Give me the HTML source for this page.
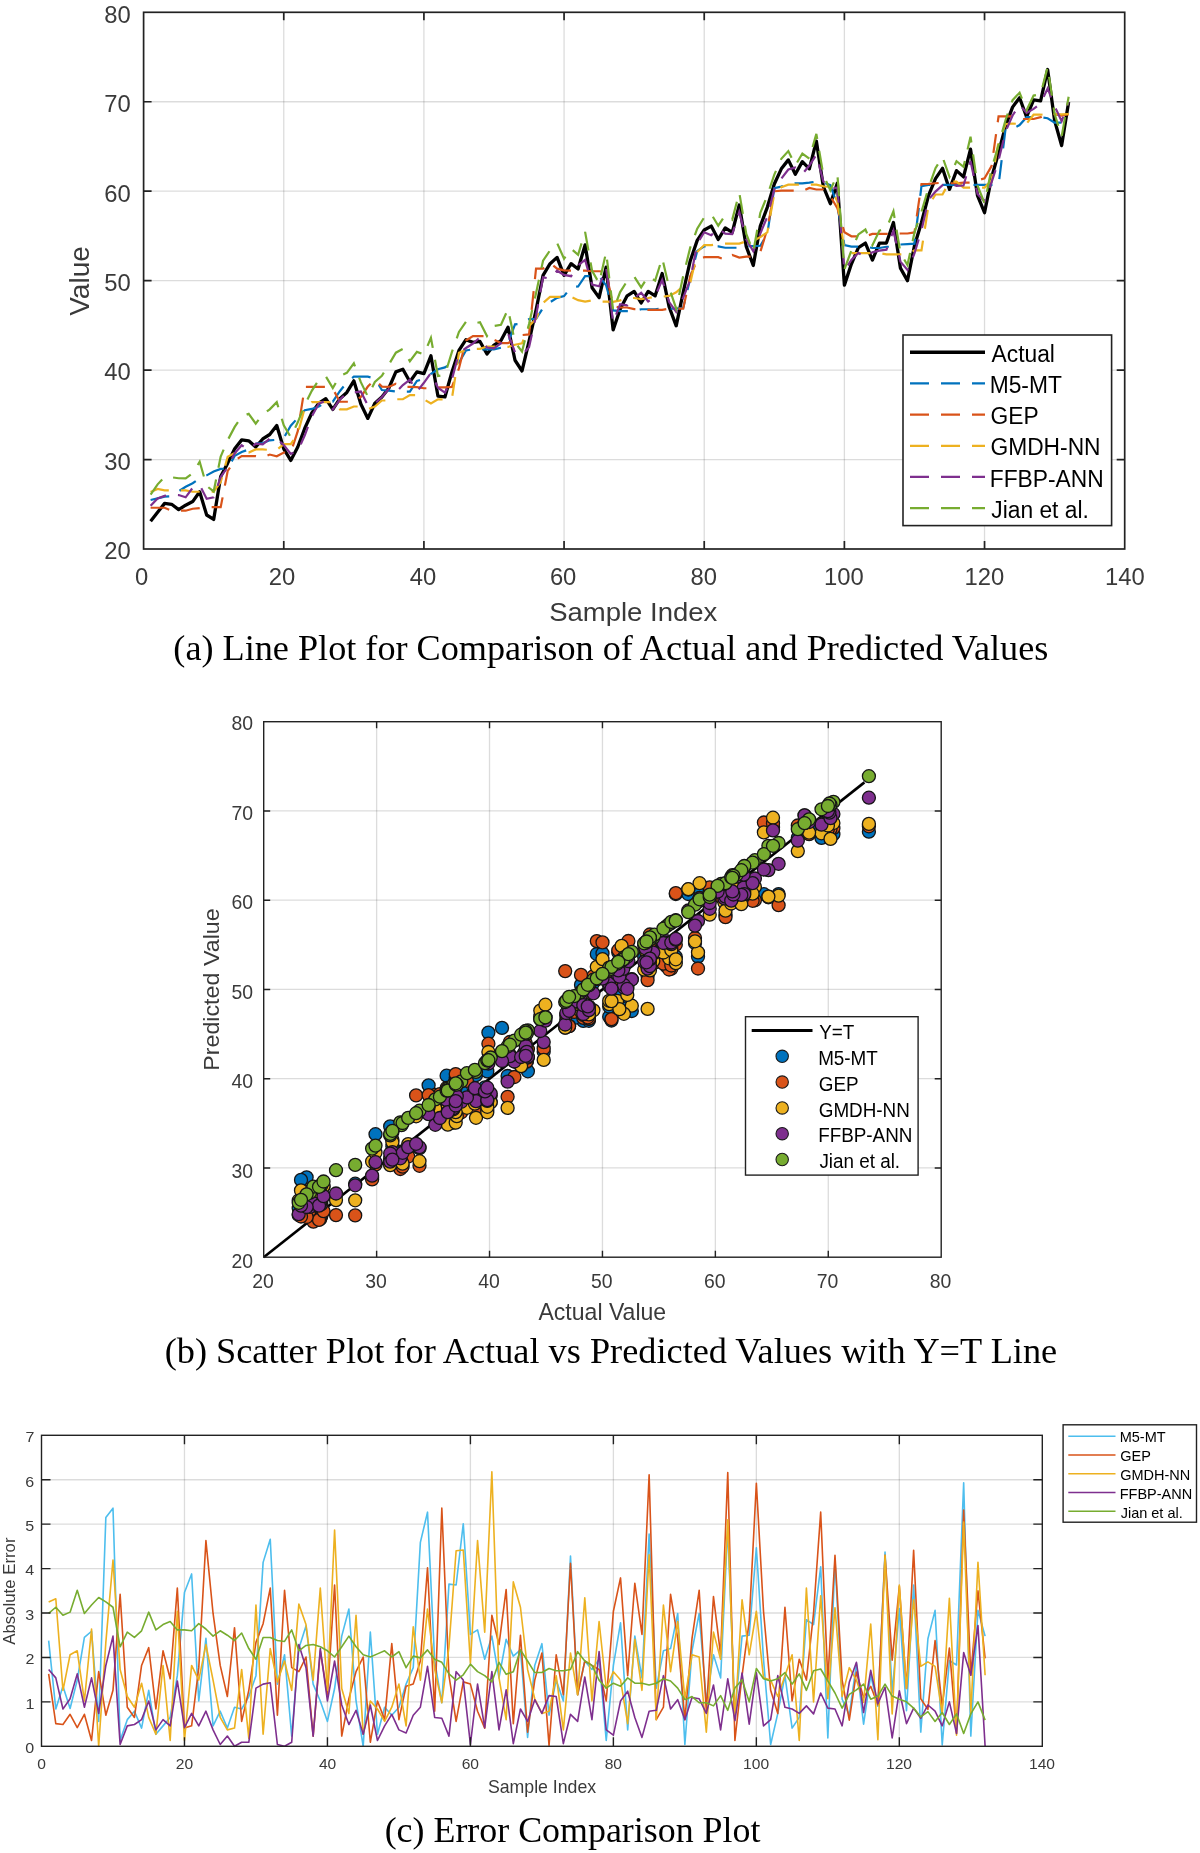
<!DOCTYPE html><html><head><meta charset="utf-8"><style>html,body{margin:0;padding:0;background:#fff;overflow:hidden}svg{display:block;will-change:transform}text{font-family:"Liberation Sans",sans-serif}text.cap{font-family:"Liberation Serif",serif}</style></head><body>
<svg width="1200" height="1853" viewBox="0 0 1200 1853">
<rect width="1200" height="1853" fill="#fff"/>
<line x1="283.76" y1="12.3" x2="283.76" y2="549.0" stroke="#262626" stroke-opacity="0.16" stroke-width="1.3"/><line x1="423.91" y1="12.3" x2="423.91" y2="549.0" stroke="#262626" stroke-opacity="0.16" stroke-width="1.3"/><line x1="564.07" y1="12.3" x2="564.07" y2="549.0" stroke="#262626" stroke-opacity="0.16" stroke-width="1.3"/><line x1="704.23" y1="12.3" x2="704.23" y2="549.0" stroke="#262626" stroke-opacity="0.16" stroke-width="1.3"/><line x1="844.39" y1="12.3" x2="844.39" y2="549.0" stroke="#262626" stroke-opacity="0.16" stroke-width="1.3"/><line x1="984.54" y1="12.3" x2="984.54" y2="549.0" stroke="#262626" stroke-opacity="0.16" stroke-width="1.3"/><line x1="143.6" y1="459.55" x2="1124.7" y2="459.55" stroke="#262626" stroke-opacity="0.16" stroke-width="1.3"/><line x1="143.6" y1="370.10" x2="1124.7" y2="370.10" stroke="#262626" stroke-opacity="0.16" stroke-width="1.3"/><line x1="143.6" y1="280.65" x2="1124.7" y2="280.65" stroke="#262626" stroke-opacity="0.16" stroke-width="1.3"/><line x1="143.6" y1="191.20" x2="1124.7" y2="191.20" stroke="#262626" stroke-opacity="0.16" stroke-width="1.3"/><line x1="143.6" y1="101.75" x2="1124.7" y2="101.75" stroke="#262626" stroke-opacity="0.16" stroke-width="1.3"/>
<polyline points="150.61,521.27 157.62,512.33 164.62,503.38 171.63,504.27 178.64,509.64 185.65,505.17 192.66,501.59 199.66,491.75 206.67,515.01 213.68,519.48 220.69,476.55 227.69,463.13 234.70,448.82 241.71,439.87 248.72,440.77 255.73,447.03 262.73,438.98 269.74,434.50 276.75,425.56 283.76,448.82 290.76,460.44 297.77,447.03 304.78,428.24 311.79,413.04 318.80,403.20 325.80,398.72 332.81,409.46 339.82,398.72 346.83,392.46 353.84,380.83 360.84,404.09 367.85,418.40 374.86,403.20 381.87,396.94 388.88,387.99 395.88,371.89 402.89,369.21 409.90,381.73 416.91,371.89 423.91,373.68 430.92,355.79 437.93,396.04 444.94,396.94 451.95,371.89 458.95,350.42 465.96,339.69 472.97,342.37 479.98,341.48 486.99,354.00 493.99,345.05 501.00,340.58 508.01,327.16 515.02,360.26 522.02,370.99 529.03,341.48 536.04,310.17 543.05,275.28 550.06,263.65 557.06,257.39 564.07,275.28 571.08,263.65 578.09,269.02 585.10,244.87 592.10,287.81 599.11,297.65 606.12,267.23 613.13,329.85 620.13,309.27 627.14,295.86 634.15,291.38 641.16,303.01 648.17,291.38 655.17,295.86 662.18,273.49 669.19,307.04 676.20,325.82 683.21,292.28 690.21,260.97 697.22,240.40 704.23,230.02 711.24,226.09 718.24,239.50 725.25,227.87 732.26,232.35 739.27,204.98 746.28,246.66 753.28,265.44 760.29,226.09 767.30,207.30 774.31,184.04 781.32,168.84 788.32,159.89 795.33,174.20 802.34,161.68 809.35,168.84 816.35,141.11 823.36,186.73 830.37,203.72 837.38,183.15 844.39,285.12 851.39,264.10 858.40,247.55 865.41,243.08 872.42,260.08 879.43,243.08 886.43,243.08 893.44,222.51 900.45,268.13 907.46,280.65 914.46,245.76 921.47,222.51 928.48,195.67 935.49,178.68 942.50,168.30 949.50,189.41 956.51,170.63 963.52,176.89 970.53,149.16 977.53,195.67 984.54,212.67 991.55,177.78 998.56,152.74 1005.57,125.90 1012.57,107.12 1019.58,97.72 1026.59,116.96 1033.60,99.96 1040.61,100.86 1047.61,69.55 1054.62,120.53 1061.63,145.58 1068.64,102.02" fill="none" stroke="#000" stroke-width="3.3" stroke-linejoin="round"/>
<polyline points="150.61,499.98 157.62,498.33 164.62,496.67 171.63,496.31 178.64,491.30 185.65,486.74 192.66,483.25 199.66,478.42 206.67,475.38 213.68,471.54 220.69,468.94 227.69,468.50 234.70,455.88 241.71,452.04 248.72,449.44 255.73,443.54 262.73,443.09 269.74,440.32 276.75,439.78 283.76,437.90 290.76,425.74 297.77,417.87 304.78,410.26 311.79,408.92 318.80,406.51 325.80,402.39 332.81,401.59 339.82,391.21 346.83,382.44 353.84,376.72 360.84,376.72 367.85,376.72 374.86,378.51 381.87,390.05 388.88,390.67 395.88,391.57 402.89,391.57 409.90,391.57 416.91,381.01 423.91,378.69 430.92,373.86 437.93,369.29 444.94,367.42 451.95,362.77 458.95,362.68 465.96,350.42 472.97,349.35 479.98,349.35 486.99,349.35 493.99,349.35 501.00,347.74 508.01,343.00 515.02,324.30 522.02,323.85 529.03,319.20 536.04,318.93 543.05,307.93 550.06,302.21 557.06,297.82 564.07,296.12 571.08,287.09 578.09,286.55 585.10,276.09 592.10,276.09 599.11,276.09 606.12,285.39 613.13,310.44 620.13,311.06 627.14,311.06 634.15,311.06 641.16,309.27 648.17,309.27 655.17,309.27 662.18,308.65 669.19,308.65 676.20,308.65 683.21,307.75 690.21,278.50 697.22,250.95 704.23,246.30 711.24,246.30 718.24,246.30 725.25,247.73 732.26,247.73 739.27,247.73 746.28,246.21 753.28,246.21 760.29,245.76 767.30,234.05 774.31,188.07 781.32,186.64 788.32,184.40 795.33,183.33 802.34,183.33 809.35,182.61 816.35,181.54 823.36,182.61 830.37,185.12 837.38,205.51 844.39,245.14 851.39,246.57 858.40,246.57 865.41,246.75 872.42,247.91 879.43,248.00 886.43,246.75 893.44,246.75 900.45,244.51 907.46,244.06 914.46,243.62 921.47,186.19 928.48,184.94 935.49,184.94 942.50,184.94 949.50,184.94 956.51,184.94 963.52,184.94 970.53,184.94 977.53,184.94 984.54,184.94 991.55,184.94 998.56,184.94 1005.57,128.76 1012.57,128.76 1019.58,125.10 1026.59,117.22 1033.60,117.22 1040.61,117.22 1047.61,118.21 1054.62,122.59 1061.63,122.59 1068.64,122.59" fill="none" stroke="#0072BD" stroke-width="2.2" stroke-dasharray="19 12"/>
<polyline points="150.61,507.76 157.62,507.76 164.62,507.76 171.63,510.72 178.64,510.72 185.65,510.72 192.66,508.75 199.66,508.21 206.67,507.14 213.68,507.14 220.69,507.14 227.69,471.00 234.70,460.62 241.71,456.15 248.72,456.15 255.73,456.15 262.73,457.40 269.74,454.54 276.75,456.33 283.76,452.48 290.76,452.48 297.77,431.19 304.78,386.92 311.79,386.92 318.80,386.83 325.80,386.92 332.81,388.71 339.82,401.77 346.83,401.77 353.84,401.77 360.84,396.94 367.85,386.56 374.86,379.40 381.87,386.56 388.88,386.92 395.88,383.79 402.89,386.92 409.90,386.92 416.91,387.18 423.91,388.26 430.92,388.26 437.93,387.36 444.94,387.36 451.95,386.92 458.95,368.40 465.96,340.49 472.97,336.11 479.98,336.11 486.99,336.11 493.99,339.69 501.00,343.09 508.01,343.09 515.02,339.69 522.02,335.04 529.03,334.41 536.04,268.66 543.05,268.66 550.06,262.76 557.06,268.66 564.07,270.36 571.08,270.72 578.09,270.72 585.10,270.72 592.10,271.26 599.11,271.26 606.12,271.79 613.13,306.41 620.13,307.49 627.14,307.49 634.15,309.18 641.16,309.18 648.17,309.81 655.17,309.81 662.18,309.81 669.19,308.65 676.20,308.65 683.21,308.56 690.21,276.45 697.22,259.99 704.23,257.21 711.24,257.21 718.24,257.21 725.25,259.63 732.26,254.89 739.27,257.57 746.28,256.68 753.28,256.68 760.29,252.03 767.30,229.04 774.31,191.29 781.32,190.57 788.32,190.57 795.33,190.57 802.34,191.29 809.35,187.89 816.35,189.50 823.36,189.50 830.37,196.21 837.38,208.28 844.39,232.17 851.39,236.28 858.40,236.28 865.41,236.28 872.42,233.96 879.43,233.96 886.43,233.96 893.44,233.96 900.45,233.51 907.46,233.51 914.46,232.44 921.47,184.04 928.48,183.95 935.49,183.24 942.50,182.70 949.50,183.24 956.51,183.24 963.52,182.70 970.53,182.70 977.53,180.47 984.54,178.32 991.55,166.15 998.56,116.33 1005.57,116.33 1012.57,116.33 1019.58,119.01 1026.59,119.01 1033.60,119.01 1040.61,117.14 1047.61,114.27 1054.62,114.27 1061.63,115.70 1068.64,114.27" fill="none" stroke="#D95319" stroke-width="2.2" stroke-dasharray="19 12"/>
<polyline points="150.61,492.11 157.62,488.98 164.62,490.41 171.63,490.41 178.64,490.41 185.65,490.41 192.66,491.75 199.66,491.75 206.67,491.75 213.68,491.75 220.69,482.00 227.69,456.69 234.70,453.11 241.71,452.57 248.72,452.57 255.73,449.44 262.73,449.44 269.74,449.98 276.75,449.98 283.76,444.16 290.76,444.16 297.77,433.70 304.78,407.76 311.79,402.03 318.80,402.03 325.80,402.03 332.81,402.03 339.82,409.28 346.83,409.28 353.84,406.51 360.84,406.51 367.85,409.28 374.86,406.51 381.87,400.51 388.88,400.51 395.88,399.26 402.89,399.26 409.90,395.06 416.91,395.06 423.91,399.35 430.92,403.55 437.93,399.35 444.94,399.35 451.95,398.28 458.95,352.84 465.96,349.88 472.97,348.81 479.98,348.81 486.99,346.49 493.99,346.49 501.00,346.93 508.01,346.93 515.02,344.70 522.02,343.35 529.03,326.00 536.04,318.93 543.05,303.01 550.06,296.93 557.06,296.93 564.07,296.93 571.08,296.93 578.09,300.15 585.10,301.58 592.10,300.33 599.11,301.58 606.12,301.58 613.13,301.85 620.13,300.33 627.14,298.00 634.15,298.00 641.16,299.17 648.17,298.00 655.17,296.66 662.18,296.66 669.19,295.95 676.20,292.28 683.21,286.11 690.21,283.15 697.22,252.03 704.23,245.05 711.24,245.05 718.24,244.06 725.25,243.62 732.26,243.62 739.27,243.53 746.28,241.29 753.28,241.11 760.29,237.00 767.30,232.44 774.31,193.62 781.32,187.26 788.32,184.67 795.33,184.67 802.34,184.67 809.35,184.67 816.35,184.67 823.36,186.37 830.37,186.73 837.38,201.58 844.39,250.33 851.39,253.10 858.40,253.10 865.41,253.10 872.42,253.10 879.43,253.10 886.43,254.35 893.44,254.35 900.45,254.35 907.46,254.35 914.46,250.42 921.47,250.33 928.48,205.69 935.49,194.51 942.50,194.51 949.50,181.63 956.51,181.63 963.52,187.62 970.53,187.62 977.53,187.62 984.54,187.62 991.55,180.20 998.56,142.00 1005.57,124.11 1012.57,123.49 1019.58,124.11 1026.59,123.49 1033.60,114.72 1040.61,114.72 1047.61,114.00 1054.62,114.00 1061.63,114.36 1068.64,114.00" fill="none" stroke="#EDB120" stroke-width="2.2" stroke-dasharray="19 12"/>
<polyline points="150.61,505.80 157.62,498.55 164.62,495.87 171.63,494.70 178.64,495.06 185.65,497.30 192.66,487.82 199.66,485.13 206.67,498.73 213.68,497.30 220.69,476.90 227.69,467.24 234.70,453.20 241.71,445.24 248.72,449.89 255.73,443.72 262.73,444.34 269.74,438.62 276.75,438.71 283.76,445.06 290.76,453.83 297.77,451.14 304.78,435.31 311.79,416.35 318.80,403.55 325.80,400.78 332.81,409.46 339.82,399.53 346.83,393.27 353.84,392.55 360.84,391.57 367.85,405.61 374.86,403.55 381.87,396.94 388.88,388.80 395.88,392.37 402.89,385.04 409.90,379.67 416.91,391.57 423.91,382.80 430.92,372.96 437.93,387.72 444.94,392.55 451.95,379.13 458.95,352.84 465.96,348.01 472.97,343.53 479.98,337.36 486.99,347.56 493.99,348.36 501.00,343.26 508.01,333.43 515.02,352.39 522.02,354.89 529.03,347.29 536.04,315.80 543.05,277.34 550.06,278.68 557.06,270.72 564.07,274.93 571.08,276.18 578.09,265.26 585.10,259.90 592.10,284.50 599.11,286.29 606.12,267.77 613.13,322.33 620.13,304.26 627.14,305.25 634.15,298.00 641.16,292.82 648.17,301.40 655.17,296.39 662.18,279.93 669.19,302.03 676.20,311.87 683.21,297.65 690.21,280.02 697.22,243.71 704.23,232.26 711.24,235.21 718.24,228.41 725.25,233.69 732.26,234.14 739.27,212.04 746.28,239.41 753.28,251.22 760.29,233.60 767.30,216.69 774.31,189.41 781.32,178.68 788.32,169.46 795.33,167.59 802.34,174.03 809.35,165.53 816.35,154.70 823.36,181.54 830.37,188.96 837.38,187.62 844.39,270.27 851.39,259.99 858.40,252.92 865.41,257.30 872.42,252.20 879.43,250.59 886.43,249.70 893.44,230.65 900.45,261.60 907.46,269.92 914.46,253.46 921.47,230.02 928.48,199.79 935.49,191.56 942.50,185.21 949.50,182.61 956.51,185.92 963.52,185.48 970.53,161.06 977.53,193.97 984.54,201.49 991.55,182.34 998.56,160.43 1005.57,131.54 1012.57,115.44 1019.58,104.79 1026.59,112.84 1033.60,108.91 1040.61,103.45 1047.61,88.42 1054.62,106.22 1061.63,121.25 1068.64,102.02" fill="none" stroke="#7E2F8E" stroke-width="2.2" stroke-dasharray="19 12"/>
<polyline points="150.61,494.52 157.62,484.33 164.62,476.99 171.63,477.26 178.64,478.25 185.65,478.42 192.66,473.15 199.66,461.79 206.67,485.94 213.68,491.48 220.69,456.51 227.69,440.14 234.70,426.90 241.71,416.61 248.72,413.75 255.73,423.59 262.73,414.47 269.74,409.37 276.75,402.12 283.76,425.38 290.76,437.19 297.77,422.34 304.78,404.63 311.79,390.85 318.80,379.94 325.80,376.36 332.81,388.17 339.82,375.91 346.83,372.78 353.84,363.30 360.84,382.18 367.85,396.49 374.86,381.91 381.87,375.82 388.88,364.55 395.88,352.66 402.89,348.90 409.90,361.24 416.91,351.85 423.91,354.45 430.92,337.81 437.93,376.00 444.94,374.75 451.95,351.85 458.95,331.99 465.96,321.71 472.97,323.76 479.98,322.24 486.99,336.02 493.99,326.00 501.00,324.75 508.01,309.01 515.02,342.46 522.02,351.58 529.03,323.94 536.04,293.26 543.05,260.70 550.06,250.33 557.06,242.99 564.07,258.73 571.08,248.63 578.09,254.80 585.10,231.90 592.10,270.90 599.11,283.15 606.12,252.20 613.13,310.44 620.13,292.10 627.14,281.01 634.15,276.54 641.16,287.36 648.17,276.18 655.17,280.65 662.18,258.02 669.19,287.98 676.20,308.65 683.21,276.00 690.21,247.64 697.22,228.68 704.23,217.32 711.24,214.01 718.24,225.73 725.25,215.17 732.26,219.65 739.27,192.63 746.28,233.96 753.28,251.85 760.29,212.94 767.30,195.58 774.31,174.65 781.32,158.82 788.32,151.13 795.33,165.44 802.34,153.54 809.35,158.64 816.35,133.86 823.36,175.01 830.37,190.31 837.38,174.20 844.39,269.47 851.39,250.51 858.40,234.40 865.41,229.48 872.42,245.23 879.43,230.56 886.43,228.50 893.44,211.24 900.45,252.92 907.46,265.09 914.46,232.62 921.47,211.77 928.48,187.98 935.49,168.21 942.50,156.94 949.50,176.89 956.51,161.14 963.52,166.78 970.53,136.64 977.53,185.56 984.54,203.19 991.55,168.84 998.56,145.04 1005.57,120.00 1012.57,100.14 1019.58,92.72 1026.59,110.16 1033.60,95.58 1040.61,94.33 1047.61,66.95 1054.62,114.00 1061.63,136.64 1068.64,96.74" fill="none" stroke="#77AC30" stroke-width="2.2" stroke-dasharray="19 12"/>
<rect x="143.6" y="12.3" width="981.10" height="536.70" fill="none" stroke="#222" stroke-width="1.7"/><path d="M283.76,549.0v-8M283.76,12.3v8M423.91,549.0v-8M423.91,12.3v8M564.07,549.0v-8M564.07,12.3v8M704.23,549.0v-8M704.23,12.3v8M844.39,549.0v-8M844.39,12.3v8M984.54,549.0v-8M984.54,12.3v8M143.6,459.55h8M1124.7,459.55h-8M143.6,370.10h8M1124.7,370.10h-8M143.6,280.65h8M1124.7,280.65h-8M143.6,191.20h8M1124.7,191.20h-8M143.6,101.75h8M1124.7,101.75h-8" stroke="#222" stroke-width="1.7" fill="none"/>
<text transform="translate(104.27,559.30) scale(1.0000,1.0000)" font-size="23.80" fill="#3a3a3a">20</text>
<text transform="translate(104.27,469.85) scale(1.0000,1.0000)" font-size="23.80" fill="#3a3a3a">30</text>
<text transform="translate(104.27,380.40) scale(1.0000,1.0000)" font-size="23.80" fill="#3a3a3a">40</text>
<text transform="translate(104.27,290.95) scale(1.0000,1.0000)" font-size="23.80" fill="#3a3a3a">50</text>
<text transform="translate(104.27,201.50) scale(1.0000,1.0000)" font-size="23.80" fill="#3a3a3a">60</text>
<text transform="translate(104.27,112.05) scale(1.0000,1.0000)" font-size="23.80" fill="#3a3a3a">70</text>
<text transform="translate(104.27,22.60) scale(1.0000,1.0000)" font-size="23.80" fill="#3a3a3a">80</text>
<text transform="translate(135.07,585.30) scale(1.0000,1.0000)" font-size="23.80" fill="#3a3a3a">0</text>
<text transform="translate(268.86,585.30) scale(1.0000,1.0000)" font-size="23.80" fill="#3a3a3a">20</text>
<text transform="translate(409.70,585.30) scale(1.0000,1.0000)" font-size="23.80" fill="#3a3a3a">40</text>
<text transform="translate(549.89,585.30) scale(1.0000,1.0000)" font-size="23.80" fill="#3a3a3a">60</text>
<text transform="translate(690.49,585.30) scale(1.0000,1.0000)" font-size="23.80" fill="#3a3a3a">80</text>
<text transform="translate(823.98,585.30) scale(1.0000,1.0000)" font-size="23.80" fill="#3a3a3a">100</text>
<text transform="translate(964.50,585.30) scale(1.0000,1.0000)" font-size="23.80" fill="#3a3a3a">120</text>
<text transform="translate(1105.01,585.30) scale(1.0000,1.0000)" font-size="23.80" fill="#3a3a3a">140</text>
<text transform="translate(549.16,620.80) scale(1.0903,1.0000)" font-size="25.24" fill="#3a3a3a">Sample Index</text>
<text transform="translate(88.53,315.74) rotate(-90) scale(1.4004,1.3673)" font-size="20.00" fill="#3a3a3a">Value</text>
<rect x="903" y="335" width="208.6" height="190.6" fill="#fff" stroke="#222" stroke-width="1.6"/>
<line x1="910" y1="352.30" x2="985" y2="352.30" stroke="#000" stroke-width="3.4"/>
<text transform="translate(991.54,362.00) scale(1.0000,1.0500)" font-size="22.80" fill="#000">Actual</text>
<line x1="910" y1="383.46" x2="985" y2="383.46" stroke="#0072BD" stroke-width="2.2" stroke-dasharray="19 12"/>
<text transform="translate(989.72,393.16) scale(1.0000,1.0500)" font-size="22.80" fill="#000">M5-MT</text>
<line x1="910" y1="414.62" x2="985" y2="414.62" stroke="#D95319" stroke-width="2.2" stroke-dasharray="19 12"/>
<text transform="translate(990.46,424.32) scale(1.0000,1.0500)" font-size="22.80" fill="#000">GEP</text>
<line x1="910" y1="445.78" x2="985" y2="445.78" stroke="#EDB120" stroke-width="2.2" stroke-dasharray="19 12"/>
<text transform="translate(990.46,455.48) scale(1.0000,1.0500)" font-size="22.80" fill="#000">GMDH-NN</text>
<line x1="910" y1="476.94" x2="985" y2="476.94" stroke="#7E2F8E" stroke-width="2.2" stroke-dasharray="19 12"/>
<text transform="translate(989.72,486.64) scale(1.0000,1.0500)" font-size="22.80" fill="#000">FFBP-ANN</text>
<line x1="910" y1="508.10" x2="985" y2="508.10" stroke="#77AC30" stroke-width="2.2" stroke-dasharray="19 12"/>
<text transform="translate(991.26,517.80) scale(1.0000,1.0500)" font-size="22.80" fill="#000">Jian et al.</text>
<text class="cap" transform="translate(173.36,659.70) scale(1.0032,1.0000)" font-size="36.10" fill="#000">(a) Line Plot for Comparison of Actual and Predicted Values</text>
<line x1="376.62" y1="721.7" x2="376.62" y2="1257.2" stroke="#262626" stroke-opacity="0.16" stroke-width="1.3"/><line x1="489.53" y1="721.7" x2="489.53" y2="1257.2" stroke="#262626" stroke-opacity="0.16" stroke-width="1.3"/><line x1="602.45" y1="721.7" x2="602.45" y2="1257.2" stroke="#262626" stroke-opacity="0.16" stroke-width="1.3"/><line x1="715.37" y1="721.7" x2="715.37" y2="1257.2" stroke="#262626" stroke-opacity="0.16" stroke-width="1.3"/><line x1="828.28" y1="721.7" x2="828.28" y2="1257.2" stroke="#262626" stroke-opacity="0.16" stroke-width="1.3"/><line x1="263.7" y1="1167.95" x2="941.2" y2="1167.95" stroke="#262626" stroke-opacity="0.16" stroke-width="1.3"/><line x1="263.7" y1="1078.70" x2="941.2" y2="1078.70" stroke="#262626" stroke-opacity="0.16" stroke-width="1.3"/><line x1="263.7" y1="989.45" x2="941.2" y2="989.45" stroke="#262626" stroke-opacity="0.16" stroke-width="1.3"/><line x1="263.7" y1="900.20" x2="941.2" y2="900.20" stroke="#262626" stroke-opacity="0.16" stroke-width="1.3"/><line x1="263.7" y1="810.95" x2="941.2" y2="810.95" stroke="#262626" stroke-opacity="0.16" stroke-width="1.3"/>
<line x1="263.70" y1="1257.20" x2="864.42" y2="782.39" stroke="#000" stroke-width="2.6"/>
<circle cx="298.7" cy="1208.3" r="6.5" fill="#0072BD" stroke="#151515" stroke-width="1.3"/>
<circle cx="310.0" cy="1213.1" r="6.5" fill="#0072BD" stroke="#151515" stroke-width="1.3"/>
<circle cx="321.3" cy="1199.6" r="6.5" fill="#0072BD" stroke="#151515" stroke-width="1.3"/>
<circle cx="320.2" cy="1205.0" r="6.5" fill="#0072BD" stroke="#151515" stroke-width="1.3"/>
<circle cx="313.4" cy="1204.6" r="6.5" fill="#0072BD" stroke="#151515" stroke-width="1.3"/>
<circle cx="319.0" cy="1191.6" r="6.5" fill="#0072BD" stroke="#151515" stroke-width="1.3"/>
<circle cx="323.5" cy="1186.8" r="6.5" fill="#0072BD" stroke="#151515" stroke-width="1.3"/>
<circle cx="336.0" cy="1195.1" r="6.5" fill="#0072BD" stroke="#151515" stroke-width="1.3"/>
<circle cx="306.6" cy="1177.3" r="6.5" fill="#0072BD" stroke="#151515" stroke-width="1.3"/>
<circle cx="301.0" cy="1179.9" r="6.5" fill="#0072BD" stroke="#151515" stroke-width="1.3"/>
<circle cx="355.2" cy="1183.7" r="6.5" fill="#0072BD" stroke="#151515" stroke-width="1.3"/>
<circle cx="372.1" cy="1176.9" r="6.5" fill="#0072BD" stroke="#151515" stroke-width="1.3"/>
<circle cx="390.2" cy="1164.3" r="6.5" fill="#0072BD" stroke="#151515" stroke-width="1.3"/>
<circle cx="401.5" cy="1152.0" r="6.5" fill="#0072BD" stroke="#151515" stroke-width="1.3"/>
<circle cx="400.3" cy="1160.5" r="6.5" fill="#0072BD" stroke="#151515" stroke-width="1.3"/>
<circle cx="392.4" cy="1157.9" r="6.5" fill="#0072BD" stroke="#151515" stroke-width="1.3"/>
<circle cx="402.6" cy="1151.5" r="6.5" fill="#0072BD" stroke="#151515" stroke-width="1.3"/>
<circle cx="408.2" cy="1148.8" r="6.5" fill="#0072BD" stroke="#151515" stroke-width="1.3"/>
<circle cx="419.5" cy="1148.2" r="6.5" fill="#0072BD" stroke="#151515" stroke-width="1.3"/>
<circle cx="390.2" cy="1126.4" r="6.5" fill="#0072BD" stroke="#151515" stroke-width="1.3"/>
<circle cx="375.5" cy="1134.2" r="6.5" fill="#0072BD" stroke="#151515" stroke-width="1.3"/>
<circle cx="392.4" cy="1146.4" r="6.5" fill="#0072BD" stroke="#151515" stroke-width="1.3"/>
<circle cx="416.1" cy="1115.0" r="6.5" fill="#0072BD" stroke="#151515" stroke-width="1.3"/>
<circle cx="435.3" cy="1117.4" r="6.5" fill="#0072BD" stroke="#151515" stroke-width="1.3"/>
<circle cx="447.8" cy="1118.8" r="6.5" fill="#0072BD" stroke="#151515" stroke-width="1.3"/>
<circle cx="453.4" cy="1110.9" r="6.5" fill="#0072BD" stroke="#151515" stroke-width="1.3"/>
<circle cx="439.9" cy="1110.1" r="6.5" fill="#0072BD" stroke="#151515" stroke-width="1.3"/>
<circle cx="453.4" cy="1099.8" r="6.5" fill="#0072BD" stroke="#151515" stroke-width="1.3"/>
<circle cx="461.3" cy="1091.0" r="6.5" fill="#0072BD" stroke="#151515" stroke-width="1.3"/>
<circle cx="476.0" cy="1075.2" r="6.5" fill="#0072BD" stroke="#151515" stroke-width="1.3"/>
<circle cx="446.6" cy="1075.7" r="6.5" fill="#0072BD" stroke="#151515" stroke-width="1.3"/>
<circle cx="428.6" cy="1085.3" r="6.5" fill="#0072BD" stroke="#151515" stroke-width="1.3"/>
<circle cx="447.8" cy="1099.2" r="6.5" fill="#0072BD" stroke="#151515" stroke-width="1.3"/>
<circle cx="455.7" cy="1087.1" r="6.5" fill="#0072BD" stroke="#151515" stroke-width="1.3"/>
<circle cx="466.9" cy="1098.6" r="6.5" fill="#0072BD" stroke="#151515" stroke-width="1.3"/>
<circle cx="487.3" cy="1100.1" r="6.5" fill="#0072BD" stroke="#151515" stroke-width="1.3"/>
<circle cx="490.7" cy="1102.0" r="6.5" fill="#0072BD" stroke="#151515" stroke-width="1.3"/>
<circle cx="474.9" cy="1102.8" r="6.5" fill="#0072BD" stroke="#151515" stroke-width="1.3"/>
<circle cx="487.3" cy="1089.6" r="6.5" fill="#0072BD" stroke="#151515" stroke-width="1.3"/>
<circle cx="485.0" cy="1087.3" r="6.5" fill="#0072BD" stroke="#151515" stroke-width="1.3"/>
<circle cx="507.6" cy="1076.0" r="6.5" fill="#0072BD" stroke="#151515" stroke-width="1.3"/>
<circle cx="456.8" cy="1082.4" r="6.5" fill="#0072BD" stroke="#151515" stroke-width="1.3"/>
<circle cx="455.7" cy="1077.9" r="6.5" fill="#0072BD" stroke="#151515" stroke-width="1.3"/>
<circle cx="487.3" cy="1071.4" r="6.5" fill="#0072BD" stroke="#151515" stroke-width="1.3"/>
<circle cx="514.4" cy="1059.1" r="6.5" fill="#0072BD" stroke="#151515" stroke-width="1.3"/>
<circle cx="527.9" cy="1071.3" r="6.5" fill="#0072BD" stroke="#151515" stroke-width="1.3"/>
<circle cx="524.5" cy="1053.4" r="6.5" fill="#0072BD" stroke="#151515" stroke-width="1.3"/>
<circle cx="525.7" cy="1058.0" r="6.5" fill="#0072BD" stroke="#151515" stroke-width="1.3"/>
<circle cx="509.9" cy="1056.4" r="6.5" fill="#0072BD" stroke="#151515" stroke-width="1.3"/>
<circle cx="521.1" cy="1061.6" r="6.5" fill="#0072BD" stroke="#151515" stroke-width="1.3"/>
<circle cx="526.8" cy="1061.7" r="6.5" fill="#0072BD" stroke="#151515" stroke-width="1.3"/>
<circle cx="543.7" cy="1051.7" r="6.5" fill="#0072BD" stroke="#151515" stroke-width="1.3"/>
<circle cx="502.0" cy="1027.9" r="6.5" fill="#0072BD" stroke="#151515" stroke-width="1.3"/>
<circle cx="488.4" cy="1032.6" r="6.5" fill="#0072BD" stroke="#151515" stroke-width="1.3"/>
<circle cx="525.7" cy="1033.0" r="6.5" fill="#0072BD" stroke="#151515" stroke-width="1.3"/>
<circle cx="565.2" cy="1027.6" r="6.5" fill="#0072BD" stroke="#151515" stroke-width="1.3"/>
<circle cx="609.2" cy="1016.7" r="6.5" fill="#0072BD" stroke="#151515" stroke-width="1.3"/>
<circle cx="623.9" cy="1004.9" r="6.5" fill="#0072BD" stroke="#151515" stroke-width="1.3"/>
<circle cx="631.8" cy="1011.0" r="6.5" fill="#0072BD" stroke="#151515" stroke-width="1.3"/>
<circle cx="609.2" cy="1006.6" r="6.5" fill="#0072BD" stroke="#151515" stroke-width="1.3"/>
<circle cx="623.9" cy="995.9" r="6.5" fill="#0072BD" stroke="#151515" stroke-width="1.3"/>
<circle cx="617.1" cy="995.3" r="6.5" fill="#0072BD" stroke="#151515" stroke-width="1.3"/>
<circle cx="647.6" cy="975.9" r="6.5" fill="#0072BD" stroke="#151515" stroke-width="1.3"/>
<circle cx="593.4" cy="982.8" r="6.5" fill="#0072BD" stroke="#151515" stroke-width="1.3"/>
<circle cx="581.0" cy="984.9" r="6.5" fill="#0072BD" stroke="#151515" stroke-width="1.3"/>
<circle cx="619.4" cy="994.2" r="6.5" fill="#0072BD" stroke="#151515" stroke-width="1.3"/>
<circle cx="540.3" cy="1019.2" r="6.5" fill="#0072BD" stroke="#151515" stroke-width="1.3"/>
<circle cx="566.3" cy="1019.8" r="6.5" fill="#0072BD" stroke="#151515" stroke-width="1.3"/>
<circle cx="583.3" cy="1020.9" r="6.5" fill="#0072BD" stroke="#151515" stroke-width="1.3"/>
<circle cx="588.9" cy="1020.8" r="6.5" fill="#0072BD" stroke="#151515" stroke-width="1.3"/>
<circle cx="574.2" cy="1018.0" r="6.5" fill="#0072BD" stroke="#151515" stroke-width="1.3"/>
<circle cx="588.9" cy="1013.5" r="6.5" fill="#0072BD" stroke="#151515" stroke-width="1.3"/>
<circle cx="583.3" cy="1013.7" r="6.5" fill="#0072BD" stroke="#151515" stroke-width="1.3"/>
<circle cx="611.5" cy="1020.5" r="6.5" fill="#0072BD" stroke="#151515" stroke-width="1.3"/>
<circle cx="569.1" cy="1026.1" r="6.5" fill="#0072BD" stroke="#151515" stroke-width="1.3"/>
<circle cx="545.4" cy="1017.4" r="6.5" fill="#0072BD" stroke="#151515" stroke-width="1.3"/>
<circle cx="587.8" cy="1016.5" r="6.5" fill="#0072BD" stroke="#151515" stroke-width="1.3"/>
<circle cx="627.3" cy="987.3" r="6.5" fill="#0072BD" stroke="#151515" stroke-width="1.3"/>
<circle cx="653.3" cy="950.4" r="6.5" fill="#0072BD" stroke="#151515" stroke-width="1.3"/>
<circle cx="666.4" cy="955.2" r="6.5" fill="#0072BD" stroke="#151515" stroke-width="1.3"/>
<circle cx="671.3" cy="959.8" r="6.5" fill="#0072BD" stroke="#151515" stroke-width="1.3"/>
<circle cx="654.4" cy="951.7" r="6.5" fill="#0072BD" stroke="#151515" stroke-width="1.3"/>
<circle cx="669.1" cy="958.9" r="6.5" fill="#0072BD" stroke="#151515" stroke-width="1.3"/>
<circle cx="663.4" cy="955.0" r="6.5" fill="#0072BD" stroke="#151515" stroke-width="1.3"/>
<circle cx="698.0" cy="956.6" r="6.5" fill="#0072BD" stroke="#151515" stroke-width="1.3"/>
<circle cx="645.4" cy="967.2" r="6.5" fill="#0072BD" stroke="#151515" stroke-width="1.3"/>
<circle cx="621.6" cy="955.1" r="6.5" fill="#0072BD" stroke="#151515" stroke-width="1.3"/>
<circle cx="671.3" cy="954.6" r="6.5" fill="#0072BD" stroke="#151515" stroke-width="1.3"/>
<circle cx="695.0" cy="943.0" r="6.5" fill="#0072BD" stroke="#151515" stroke-width="1.3"/>
<circle cx="724.4" cy="893.4" r="6.5" fill="#0072BD" stroke="#151515" stroke-width="1.3"/>
<circle cx="743.6" cy="897.1" r="6.5" fill="#0072BD" stroke="#151515" stroke-width="1.3"/>
<circle cx="754.9" cy="895.6" r="6.5" fill="#0072BD" stroke="#151515" stroke-width="1.3"/>
<circle cx="736.8" cy="892.3" r="6.5" fill="#0072BD" stroke="#151515" stroke-width="1.3"/>
<circle cx="752.6" cy="889.1" r="6.5" fill="#0072BD" stroke="#151515" stroke-width="1.3"/>
<circle cx="743.6" cy="891.6" r="6.5" fill="#0072BD" stroke="#151515" stroke-width="1.3"/>
<circle cx="778.6" cy="894.1" r="6.5" fill="#0072BD" stroke="#151515" stroke-width="1.3"/>
<circle cx="721.0" cy="889.1" r="6.5" fill="#0072BD" stroke="#151515" stroke-width="1.3"/>
<circle cx="699.6" cy="890.6" r="6.5" fill="#0072BD" stroke="#151515" stroke-width="1.3"/>
<circle cx="725.5" cy="914.5" r="6.5" fill="#0072BD" stroke="#151515" stroke-width="1.3"/>
<circle cx="596.8" cy="954.0" r="6.5" fill="#0072BD" stroke="#151515" stroke-width="1.3"/>
<circle cx="623.3" cy="955.4" r="6.5" fill="#0072BD" stroke="#151515" stroke-width="1.3"/>
<circle cx="644.2" cy="956.8" r="6.5" fill="#0072BD" stroke="#151515" stroke-width="1.3"/>
<circle cx="649.9" cy="958.6" r="6.5" fill="#0072BD" stroke="#151515" stroke-width="1.3"/>
<circle cx="628.4" cy="954.7" r="6.5" fill="#0072BD" stroke="#151515" stroke-width="1.3"/>
<circle cx="649.9" cy="955.6" r="6.5" fill="#0072BD" stroke="#151515" stroke-width="1.3"/>
<circle cx="649.9" cy="957.8" r="6.5" fill="#0072BD" stroke="#151515" stroke-width="1.3"/>
<circle cx="675.8" cy="956.9" r="6.5" fill="#0072BD" stroke="#151515" stroke-width="1.3"/>
<circle cx="618.3" cy="952.5" r="6.5" fill="#0072BD" stroke="#151515" stroke-width="1.3"/>
<circle cx="602.5" cy="953.4" r="6.5" fill="#0072BD" stroke="#151515" stroke-width="1.3"/>
<circle cx="646.5" cy="952.9" r="6.5" fill="#0072BD" stroke="#151515" stroke-width="1.3"/>
<circle cx="675.8" cy="894.0" r="6.5" fill="#0072BD" stroke="#151515" stroke-width="1.3"/>
<circle cx="709.7" cy="895.2" r="6.5" fill="#0072BD" stroke="#151515" stroke-width="1.3"/>
<circle cx="731.2" cy="894.0" r="6.5" fill="#0072BD" stroke="#151515" stroke-width="1.3"/>
<circle cx="744.3" cy="894.0" r="6.5" fill="#0072BD" stroke="#151515" stroke-width="1.3"/>
<circle cx="717.6" cy="894.0" r="6.5" fill="#0072BD" stroke="#151515" stroke-width="1.3"/>
<circle cx="741.3" cy="894.0" r="6.5" fill="#0072BD" stroke="#151515" stroke-width="1.3"/>
<circle cx="733.4" cy="894.0" r="6.5" fill="#0072BD" stroke="#151515" stroke-width="1.3"/>
<circle cx="768.4" cy="897.3" r="6.5" fill="#0072BD" stroke="#151515" stroke-width="1.3"/>
<circle cx="709.7" cy="894.0" r="6.5" fill="#0072BD" stroke="#151515" stroke-width="1.3"/>
<circle cx="688.3" cy="894.0" r="6.5" fill="#0072BD" stroke="#151515" stroke-width="1.3"/>
<circle cx="732.3" cy="894.0" r="6.5" fill="#0072BD" stroke="#151515" stroke-width="1.3"/>
<circle cx="763.9" cy="894.2" r="6.5" fill="#0072BD" stroke="#151515" stroke-width="1.3"/>
<circle cx="797.8" cy="837.9" r="6.5" fill="#0072BD" stroke="#151515" stroke-width="1.3"/>
<circle cx="821.5" cy="837.9" r="6.5" fill="#0072BD" stroke="#151515" stroke-width="1.3"/>
<circle cx="833.4" cy="834.2" r="6.5" fill="#0072BD" stroke="#151515" stroke-width="1.3"/>
<circle cx="809.1" cy="826.4" r="6.5" fill="#0072BD" stroke="#151515" stroke-width="1.3"/>
<circle cx="830.5" cy="826.4" r="6.5" fill="#0072BD" stroke="#151515" stroke-width="1.3"/>
<circle cx="829.4" cy="826.4" r="6.5" fill="#0072BD" stroke="#151515" stroke-width="1.3"/>
<circle cx="868.9" cy="831.7" r="6.5" fill="#0072BD" stroke="#151515" stroke-width="1.3"/>
<circle cx="804.6" cy="831.7" r="6.5" fill="#0072BD" stroke="#151515" stroke-width="1.3"/>
<circle cx="773.0" cy="827.4" r="6.5" fill="#0072BD" stroke="#151515" stroke-width="1.3"/>
<circle cx="827.9" cy="833.4" r="6.5" fill="#0072BD" stroke="#151515" stroke-width="1.3"/>
<circle cx="298.7" cy="1215.0" r="6.5" fill="#D95319" stroke="#151515" stroke-width="1.3"/>
<circle cx="310.0" cy="1216.1" r="6.5" fill="#D95319" stroke="#151515" stroke-width="1.3"/>
<circle cx="321.3" cy="1216.1" r="6.5" fill="#D95319" stroke="#151515" stroke-width="1.3"/>
<circle cx="320.2" cy="1219.0" r="6.5" fill="#D95319" stroke="#151515" stroke-width="1.3"/>
<circle cx="313.4" cy="1221.7" r="6.5" fill="#D95319" stroke="#151515" stroke-width="1.3"/>
<circle cx="319.0" cy="1219.9" r="6.5" fill="#D95319" stroke="#151515" stroke-width="1.3"/>
<circle cx="323.5" cy="1211.1" r="6.5" fill="#D95319" stroke="#151515" stroke-width="1.3"/>
<circle cx="336.0" cy="1215.1" r="6.5" fill="#D95319" stroke="#151515" stroke-width="1.3"/>
<circle cx="306.6" cy="1217.0" r="6.5" fill="#D95319" stroke="#151515" stroke-width="1.3"/>
<circle cx="301.0" cy="1216.5" r="6.5" fill="#D95319" stroke="#151515" stroke-width="1.3"/>
<circle cx="355.2" cy="1215.4" r="6.5" fill="#D95319" stroke="#151515" stroke-width="1.3"/>
<circle cx="372.1" cy="1179.4" r="6.5" fill="#D95319" stroke="#151515" stroke-width="1.3"/>
<circle cx="390.2" cy="1163.0" r="6.5" fill="#D95319" stroke="#151515" stroke-width="1.3"/>
<circle cx="401.5" cy="1164.6" r="6.5" fill="#D95319" stroke="#151515" stroke-width="1.3"/>
<circle cx="400.3" cy="1169.0" r="6.5" fill="#D95319" stroke="#151515" stroke-width="1.3"/>
<circle cx="392.4" cy="1163.0" r="6.5" fill="#D95319" stroke="#151515" stroke-width="1.3"/>
<circle cx="402.6" cy="1166.6" r="6.5" fill="#D95319" stroke="#151515" stroke-width="1.3"/>
<circle cx="408.2" cy="1156.5" r="6.5" fill="#D95319" stroke="#151515" stroke-width="1.3"/>
<circle cx="419.5" cy="1165.8" r="6.5" fill="#D95319" stroke="#151515" stroke-width="1.3"/>
<circle cx="390.2" cy="1160.9" r="6.5" fill="#D95319" stroke="#151515" stroke-width="1.3"/>
<circle cx="375.5" cy="1164.7" r="6.5" fill="#D95319" stroke="#151515" stroke-width="1.3"/>
<circle cx="392.4" cy="1139.7" r="6.5" fill="#D95319" stroke="#151515" stroke-width="1.3"/>
<circle cx="416.1" cy="1095.4" r="6.5" fill="#D95319" stroke="#151515" stroke-width="1.3"/>
<circle cx="435.3" cy="1094.9" r="6.5" fill="#D95319" stroke="#151515" stroke-width="1.3"/>
<circle cx="447.8" cy="1095.5" r="6.5" fill="#D95319" stroke="#151515" stroke-width="1.3"/>
<circle cx="453.4" cy="1097.3" r="6.5" fill="#D95319" stroke="#151515" stroke-width="1.3"/>
<circle cx="439.9" cy="1094.1" r="6.5" fill="#D95319" stroke="#151515" stroke-width="1.3"/>
<circle cx="453.4" cy="1112.3" r="6.5" fill="#D95319" stroke="#151515" stroke-width="1.3"/>
<circle cx="461.3" cy="1112.3" r="6.5" fill="#D95319" stroke="#151515" stroke-width="1.3"/>
<circle cx="476.0" cy="1110.3" r="6.5" fill="#D95319" stroke="#151515" stroke-width="1.3"/>
<circle cx="446.6" cy="1088.0" r="6.5" fill="#D95319" stroke="#151515" stroke-width="1.3"/>
<circle cx="428.6" cy="1095.1" r="6.5" fill="#D95319" stroke="#151515" stroke-width="1.3"/>
<circle cx="447.8" cy="1105.5" r="6.5" fill="#D95319" stroke="#151515" stroke-width="1.3"/>
<circle cx="455.7" cy="1074.1" r="6.5" fill="#D95319" stroke="#151515" stroke-width="1.3"/>
<circle cx="466.9" cy="1080.8" r="6.5" fill="#D95319" stroke="#151515" stroke-width="1.3"/>
<circle cx="487.3" cy="1095.5" r="6.5" fill="#D95319" stroke="#151515" stroke-width="1.3"/>
<circle cx="490.7" cy="1095.7" r="6.5" fill="#D95319" stroke="#151515" stroke-width="1.3"/>
<circle cx="474.9" cy="1092.4" r="6.5" fill="#D95319" stroke="#151515" stroke-width="1.3"/>
<circle cx="487.3" cy="1099.7" r="6.5" fill="#D95319" stroke="#151515" stroke-width="1.3"/>
<circle cx="485.0" cy="1092.6" r="6.5" fill="#D95319" stroke="#151515" stroke-width="1.3"/>
<circle cx="507.6" cy="1096.8" r="6.5" fill="#D95319" stroke="#151515" stroke-width="1.3"/>
<circle cx="456.8" cy="1102.5" r="6.5" fill="#D95319" stroke="#151515" stroke-width="1.3"/>
<circle cx="455.7" cy="1095.9" r="6.5" fill="#D95319" stroke="#151515" stroke-width="1.3"/>
<circle cx="487.3" cy="1095.5" r="6.5" fill="#D95319" stroke="#151515" stroke-width="1.3"/>
<circle cx="514.4" cy="1077.0" r="6.5" fill="#D95319" stroke="#151515" stroke-width="1.3"/>
<circle cx="527.9" cy="1049.2" r="6.5" fill="#D95319" stroke="#151515" stroke-width="1.3"/>
<circle cx="524.5" cy="1041.9" r="6.5" fill="#D95319" stroke="#151515" stroke-width="1.3"/>
<circle cx="525.7" cy="1044.8" r="6.5" fill="#D95319" stroke="#151515" stroke-width="1.3"/>
<circle cx="509.9" cy="1042.0" r="6.5" fill="#D95319" stroke="#151515" stroke-width="1.3"/>
<circle cx="521.1" cy="1059.1" r="6.5" fill="#D95319" stroke="#151515" stroke-width="1.3"/>
<circle cx="526.8" cy="1061.3" r="6.5" fill="#D95319" stroke="#151515" stroke-width="1.3"/>
<circle cx="543.7" cy="1048.4" r="6.5" fill="#D95319" stroke="#151515" stroke-width="1.3"/>
<circle cx="502.0" cy="1051.7" r="6.5" fill="#D95319" stroke="#151515" stroke-width="1.3"/>
<circle cx="488.4" cy="1043.7" r="6.5" fill="#D95319" stroke="#151515" stroke-width="1.3"/>
<circle cx="525.7" cy="1043.1" r="6.5" fill="#D95319" stroke="#151515" stroke-width="1.3"/>
<circle cx="565.2" cy="971.1" r="6.5" fill="#D95319" stroke="#151515" stroke-width="1.3"/>
<circle cx="609.2" cy="969.9" r="6.5" fill="#D95319" stroke="#151515" stroke-width="1.3"/>
<circle cx="623.9" cy="977.5" r="6.5" fill="#D95319" stroke="#151515" stroke-width="1.3"/>
<circle cx="631.8" cy="979.2" r="6.5" fill="#D95319" stroke="#151515" stroke-width="1.3"/>
<circle cx="609.2" cy="971.6" r="6.5" fill="#D95319" stroke="#151515" stroke-width="1.3"/>
<circle cx="623.9" cy="979.5" r="6.5" fill="#D95319" stroke="#151515" stroke-width="1.3"/>
<circle cx="617.1" cy="981.5" r="6.5" fill="#D95319" stroke="#151515" stroke-width="1.3"/>
<circle cx="647.6" cy="980.1" r="6.5" fill="#D95319" stroke="#151515" stroke-width="1.3"/>
<circle cx="593.4" cy="976.2" r="6.5" fill="#D95319" stroke="#151515" stroke-width="1.3"/>
<circle cx="581.0" cy="974.9" r="6.5" fill="#D95319" stroke="#151515" stroke-width="1.3"/>
<circle cx="619.4" cy="980.6" r="6.5" fill="#D95319" stroke="#151515" stroke-width="1.3"/>
<circle cx="540.3" cy="1016.2" r="6.5" fill="#D95319" stroke="#151515" stroke-width="1.3"/>
<circle cx="566.3" cy="1015.2" r="6.5" fill="#D95319" stroke="#151515" stroke-width="1.3"/>
<circle cx="583.3" cy="1017.9" r="6.5" fill="#D95319" stroke="#151515" stroke-width="1.3"/>
<circle cx="588.9" cy="1018.9" r="6.5" fill="#D95319" stroke="#151515" stroke-width="1.3"/>
<circle cx="574.2" cy="1011.9" r="6.5" fill="#D95319" stroke="#151515" stroke-width="1.3"/>
<circle cx="588.9" cy="1018.5" r="6.5" fill="#D95319" stroke="#151515" stroke-width="1.3"/>
<circle cx="583.3" cy="1015.0" r="6.5" fill="#D95319" stroke="#151515" stroke-width="1.3"/>
<circle cx="611.5" cy="1019.1" r="6.5" fill="#D95319" stroke="#151515" stroke-width="1.3"/>
<circle cx="569.1" cy="1026.1" r="6.5" fill="#D95319" stroke="#151515" stroke-width="1.3"/>
<circle cx="545.4" cy="1017.4" r="6.5" fill="#D95319" stroke="#151515" stroke-width="1.3"/>
<circle cx="587.8" cy="1017.3" r="6.5" fill="#D95319" stroke="#151515" stroke-width="1.3"/>
<circle cx="627.3" cy="985.3" r="6.5" fill="#D95319" stroke="#151515" stroke-width="1.3"/>
<circle cx="653.3" cy="958.4" r="6.5" fill="#D95319" stroke="#151515" stroke-width="1.3"/>
<circle cx="666.4" cy="966.1" r="6.5" fill="#D95319" stroke="#151515" stroke-width="1.3"/>
<circle cx="671.3" cy="968.8" r="6.5" fill="#D95319" stroke="#151515" stroke-width="1.3"/>
<circle cx="654.4" cy="962.6" r="6.5" fill="#D95319" stroke="#151515" stroke-width="1.3"/>
<circle cx="669.1" cy="969.5" r="6.5" fill="#D95319" stroke="#151515" stroke-width="1.3"/>
<circle cx="663.4" cy="963.7" r="6.5" fill="#D95319" stroke="#151515" stroke-width="1.3"/>
<circle cx="698.0" cy="968.5" r="6.5" fill="#D95319" stroke="#151515" stroke-width="1.3"/>
<circle cx="645.4" cy="960.9" r="6.5" fill="#D95319" stroke="#151515" stroke-width="1.3"/>
<circle cx="621.6" cy="966.4" r="6.5" fill="#D95319" stroke="#151515" stroke-width="1.3"/>
<circle cx="671.3" cy="965.5" r="6.5" fill="#D95319" stroke="#151515" stroke-width="1.3"/>
<circle cx="695.0" cy="938.0" r="6.5" fill="#D95319" stroke="#151515" stroke-width="1.3"/>
<circle cx="724.4" cy="898.4" r="6.5" fill="#D95319" stroke="#151515" stroke-width="1.3"/>
<circle cx="743.6" cy="899.6" r="6.5" fill="#D95319" stroke="#151515" stroke-width="1.3"/>
<circle cx="754.9" cy="900.3" r="6.5" fill="#D95319" stroke="#151515" stroke-width="1.3"/>
<circle cx="736.8" cy="890.3" r="6.5" fill="#D95319" stroke="#151515" stroke-width="1.3"/>
<circle cx="752.6" cy="900.8" r="6.5" fill="#D95319" stroke="#151515" stroke-width="1.3"/>
<circle cx="743.6" cy="896.3" r="6.5" fill="#D95319" stroke="#151515" stroke-width="1.3"/>
<circle cx="778.6" cy="905.2" r="6.5" fill="#D95319" stroke="#151515" stroke-width="1.3"/>
<circle cx="721.0" cy="896.9" r="6.5" fill="#D95319" stroke="#151515" stroke-width="1.3"/>
<circle cx="699.6" cy="898.5" r="6.5" fill="#D95319" stroke="#151515" stroke-width="1.3"/>
<circle cx="725.5" cy="917.2" r="6.5" fill="#D95319" stroke="#151515" stroke-width="1.3"/>
<circle cx="596.8" cy="941.1" r="6.5" fill="#D95319" stroke="#151515" stroke-width="1.3"/>
<circle cx="623.3" cy="945.8" r="6.5" fill="#D95319" stroke="#151515" stroke-width="1.3"/>
<circle cx="644.2" cy="945.2" r="6.5" fill="#D95319" stroke="#151515" stroke-width="1.3"/>
<circle cx="649.9" cy="945.4" r="6.5" fill="#D95319" stroke="#151515" stroke-width="1.3"/>
<circle cx="628.4" cy="941.0" r="6.5" fill="#D95319" stroke="#151515" stroke-width="1.3"/>
<circle cx="649.9" cy="942.9" r="6.5" fill="#D95319" stroke="#151515" stroke-width="1.3"/>
<circle cx="649.9" cy="934.5" r="6.5" fill="#D95319" stroke="#151515" stroke-width="1.3"/>
<circle cx="675.8" cy="944.7" r="6.5" fill="#D95319" stroke="#151515" stroke-width="1.3"/>
<circle cx="618.3" cy="950.2" r="6.5" fill="#D95319" stroke="#151515" stroke-width="1.3"/>
<circle cx="602.5" cy="942.4" r="6.5" fill="#D95319" stroke="#151515" stroke-width="1.3"/>
<circle cx="646.5" cy="941.3" r="6.5" fill="#D95319" stroke="#151515" stroke-width="1.3"/>
<circle cx="675.8" cy="893.1" r="6.5" fill="#D95319" stroke="#151515" stroke-width="1.3"/>
<circle cx="709.7" cy="891.4" r="6.5" fill="#D95319" stroke="#151515" stroke-width="1.3"/>
<circle cx="731.2" cy="893.0" r="6.5" fill="#D95319" stroke="#151515" stroke-width="1.3"/>
<circle cx="744.3" cy="892.3" r="6.5" fill="#D95319" stroke="#151515" stroke-width="1.3"/>
<circle cx="717.6" cy="888.6" r="6.5" fill="#D95319" stroke="#151515" stroke-width="1.3"/>
<circle cx="741.3" cy="891.7" r="6.5" fill="#D95319" stroke="#151515" stroke-width="1.3"/>
<circle cx="733.4" cy="894.2" r="6.5" fill="#D95319" stroke="#151515" stroke-width="1.3"/>
<circle cx="768.4" cy="896.6" r="6.5" fill="#D95319" stroke="#151515" stroke-width="1.3"/>
<circle cx="709.7" cy="887.3" r="6.5" fill="#D95319" stroke="#151515" stroke-width="1.3"/>
<circle cx="688.3" cy="889.5" r="6.5" fill="#D95319" stroke="#151515" stroke-width="1.3"/>
<circle cx="732.3" cy="875.2" r="6.5" fill="#D95319" stroke="#151515" stroke-width="1.3"/>
<circle cx="763.9" cy="822.5" r="6.5" fill="#D95319" stroke="#151515" stroke-width="1.3"/>
<circle cx="797.8" cy="825.5" r="6.5" fill="#D95319" stroke="#151515" stroke-width="1.3"/>
<circle cx="821.5" cy="823.7" r="6.5" fill="#D95319" stroke="#151515" stroke-width="1.3"/>
<circle cx="833.4" cy="828.2" r="6.5" fill="#D95319" stroke="#151515" stroke-width="1.3"/>
<circle cx="809.1" cy="834.2" r="6.5" fill="#D95319" stroke="#151515" stroke-width="1.3"/>
<circle cx="830.5" cy="828.9" r="6.5" fill="#D95319" stroke="#151515" stroke-width="1.3"/>
<circle cx="829.4" cy="812.6" r="6.5" fill="#D95319" stroke="#151515" stroke-width="1.3"/>
<circle cx="868.9" cy="826.3" r="6.5" fill="#D95319" stroke="#151515" stroke-width="1.3"/>
<circle cx="804.6" cy="815.4" r="6.5" fill="#D95319" stroke="#151515" stroke-width="1.3"/>
<circle cx="773.0" cy="823.4" r="6.5" fill="#D95319" stroke="#151515" stroke-width="1.3"/>
<circle cx="827.9" cy="828.9" r="6.5" fill="#D95319" stroke="#151515" stroke-width="1.3"/>
<circle cx="298.7" cy="1200.5" r="6.5" fill="#EDB120" stroke="#151515" stroke-width="1.3"/>
<circle cx="310.0" cy="1191.0" r="6.5" fill="#EDB120" stroke="#151515" stroke-width="1.3"/>
<circle cx="321.3" cy="1200.4" r="6.5" fill="#EDB120" stroke="#151515" stroke-width="1.3"/>
<circle cx="320.2" cy="1194.2" r="6.5" fill="#EDB120" stroke="#151515" stroke-width="1.3"/>
<circle cx="313.4" cy="1198.7" r="6.5" fill="#EDB120" stroke="#151515" stroke-width="1.3"/>
<circle cx="319.0" cy="1204.4" r="6.5" fill="#EDB120" stroke="#151515" stroke-width="1.3"/>
<circle cx="323.5" cy="1186.3" r="6.5" fill="#EDB120" stroke="#151515" stroke-width="1.3"/>
<circle cx="336.0" cy="1200.1" r="6.5" fill="#EDB120" stroke="#151515" stroke-width="1.3"/>
<circle cx="306.6" cy="1202.4" r="6.5" fill="#EDB120" stroke="#151515" stroke-width="1.3"/>
<circle cx="301.0" cy="1190.4" r="6.5" fill="#EDB120" stroke="#151515" stroke-width="1.3"/>
<circle cx="355.2" cy="1200.3" r="6.5" fill="#EDB120" stroke="#151515" stroke-width="1.3"/>
<circle cx="372.1" cy="1161.5" r="6.5" fill="#EDB120" stroke="#151515" stroke-width="1.3"/>
<circle cx="390.2" cy="1165.1" r="6.5" fill="#EDB120" stroke="#151515" stroke-width="1.3"/>
<circle cx="401.5" cy="1161.0" r="6.5" fill="#EDB120" stroke="#151515" stroke-width="1.3"/>
<circle cx="400.3" cy="1155.0" r="6.5" fill="#EDB120" stroke="#151515" stroke-width="1.3"/>
<circle cx="392.4" cy="1157.9" r="6.5" fill="#EDB120" stroke="#151515" stroke-width="1.3"/>
<circle cx="402.6" cy="1163.7" r="6.5" fill="#EDB120" stroke="#151515" stroke-width="1.3"/>
<circle cx="408.2" cy="1144.1" r="6.5" fill="#EDB120" stroke="#151515" stroke-width="1.3"/>
<circle cx="419.5" cy="1161.2" r="6.5" fill="#EDB120" stroke="#151515" stroke-width="1.3"/>
<circle cx="390.2" cy="1158.4" r="6.5" fill="#EDB120" stroke="#151515" stroke-width="1.3"/>
<circle cx="375.5" cy="1152.6" r="6.5" fill="#EDB120" stroke="#151515" stroke-width="1.3"/>
<circle cx="392.4" cy="1142.2" r="6.5" fill="#EDB120" stroke="#151515" stroke-width="1.3"/>
<circle cx="416.1" cy="1116.3" r="6.5" fill="#EDB120" stroke="#151515" stroke-width="1.3"/>
<circle cx="435.3" cy="1108.2" r="6.5" fill="#EDB120" stroke="#151515" stroke-width="1.3"/>
<circle cx="447.8" cy="1105.9" r="6.5" fill="#EDB120" stroke="#151515" stroke-width="1.3"/>
<circle cx="453.4" cy="1110.6" r="6.5" fill="#EDB120" stroke="#151515" stroke-width="1.3"/>
<circle cx="439.9" cy="1121.6" r="6.5" fill="#EDB120" stroke="#151515" stroke-width="1.3"/>
<circle cx="453.4" cy="1122.7" r="6.5" fill="#EDB120" stroke="#151515" stroke-width="1.3"/>
<circle cx="461.3" cy="1102.6" r="6.5" fill="#EDB120" stroke="#151515" stroke-width="1.3"/>
<circle cx="476.0" cy="1117.8" r="6.5" fill="#EDB120" stroke="#151515" stroke-width="1.3"/>
<circle cx="446.6" cy="1115.0" r="6.5" fill="#EDB120" stroke="#151515" stroke-width="1.3"/>
<circle cx="428.6" cy="1107.3" r="6.5" fill="#EDB120" stroke="#151515" stroke-width="1.3"/>
<circle cx="447.8" cy="1124.7" r="6.5" fill="#EDB120" stroke="#151515" stroke-width="1.3"/>
<circle cx="455.7" cy="1122.6" r="6.5" fill="#EDB120" stroke="#151515" stroke-width="1.3"/>
<circle cx="466.9" cy="1107.8" r="6.5" fill="#EDB120" stroke="#151515" stroke-width="1.3"/>
<circle cx="487.3" cy="1109.0" r="6.5" fill="#EDB120" stroke="#151515" stroke-width="1.3"/>
<circle cx="490.7" cy="1102.3" r="6.5" fill="#EDB120" stroke="#151515" stroke-width="1.3"/>
<circle cx="474.9" cy="1103.6" r="6.5" fill="#EDB120" stroke="#151515" stroke-width="1.3"/>
<circle cx="487.3" cy="1112.3" r="6.5" fill="#EDB120" stroke="#151515" stroke-width="1.3"/>
<circle cx="485.0" cy="1093.5" r="6.5" fill="#EDB120" stroke="#151515" stroke-width="1.3"/>
<circle cx="507.6" cy="1107.9" r="6.5" fill="#EDB120" stroke="#151515" stroke-width="1.3"/>
<circle cx="456.8" cy="1116.2" r="6.5" fill="#EDB120" stroke="#151515" stroke-width="1.3"/>
<circle cx="455.7" cy="1112.1" r="6.5" fill="#EDB120" stroke="#151515" stroke-width="1.3"/>
<circle cx="487.3" cy="1106.8" r="6.5" fill="#EDB120" stroke="#151515" stroke-width="1.3"/>
<circle cx="514.4" cy="1061.5" r="6.5" fill="#EDB120" stroke="#151515" stroke-width="1.3"/>
<circle cx="527.9" cy="1057.5" r="6.5" fill="#EDB120" stroke="#151515" stroke-width="1.3"/>
<circle cx="524.5" cy="1058.5" r="6.5" fill="#EDB120" stroke="#151515" stroke-width="1.3"/>
<circle cx="525.7" cy="1055.1" r="6.5" fill="#EDB120" stroke="#151515" stroke-width="1.3"/>
<circle cx="509.9" cy="1054.8" r="6.5" fill="#EDB120" stroke="#151515" stroke-width="1.3"/>
<circle cx="521.1" cy="1066.2" r="6.5" fill="#EDB120" stroke="#151515" stroke-width="1.3"/>
<circle cx="526.8" cy="1053.4" r="6.5" fill="#EDB120" stroke="#151515" stroke-width="1.3"/>
<circle cx="543.7" cy="1059.9" r="6.5" fill="#EDB120" stroke="#151515" stroke-width="1.3"/>
<circle cx="502.0" cy="1055.6" r="6.5" fill="#EDB120" stroke="#151515" stroke-width="1.3"/>
<circle cx="488.4" cy="1052.0" r="6.5" fill="#EDB120" stroke="#151515" stroke-width="1.3"/>
<circle cx="525.7" cy="1034.7" r="6.5" fill="#EDB120" stroke="#151515" stroke-width="1.3"/>
<circle cx="565.2" cy="1027.6" r="6.5" fill="#EDB120" stroke="#151515" stroke-width="1.3"/>
<circle cx="609.2" cy="1004.1" r="6.5" fill="#EDB120" stroke="#151515" stroke-width="1.3"/>
<circle cx="623.9" cy="1011.8" r="6.5" fill="#EDB120" stroke="#151515" stroke-width="1.3"/>
<circle cx="631.8" cy="1005.7" r="6.5" fill="#EDB120" stroke="#151515" stroke-width="1.3"/>
<circle cx="609.2" cy="1000.8" r="6.5" fill="#EDB120" stroke="#151515" stroke-width="1.3"/>
<circle cx="623.9" cy="1013.8" r="6.5" fill="#EDB120" stroke="#151515" stroke-width="1.3"/>
<circle cx="617.1" cy="1000.8" r="6.5" fill="#EDB120" stroke="#151515" stroke-width="1.3"/>
<circle cx="647.6" cy="1008.9" r="6.5" fill="#EDB120" stroke="#151515" stroke-width="1.3"/>
<circle cx="593.4" cy="1010.3" r="6.5" fill="#EDB120" stroke="#151515" stroke-width="1.3"/>
<circle cx="581.0" cy="1011.8" r="6.5" fill="#EDB120" stroke="#151515" stroke-width="1.3"/>
<circle cx="619.4" cy="1009.1" r="6.5" fill="#EDB120" stroke="#151515" stroke-width="1.3"/>
<circle cx="540.3" cy="1010.6" r="6.5" fill="#EDB120" stroke="#151515" stroke-width="1.3"/>
<circle cx="566.3" cy="1002.6" r="6.5" fill="#EDB120" stroke="#151515" stroke-width="1.3"/>
<circle cx="583.3" cy="1014.2" r="6.5" fill="#EDB120" stroke="#151515" stroke-width="1.3"/>
<circle cx="588.9" cy="1006.8" r="6.5" fill="#EDB120" stroke="#151515" stroke-width="1.3"/>
<circle cx="574.2" cy="1004.7" r="6.5" fill="#EDB120" stroke="#151515" stroke-width="1.3"/>
<circle cx="588.9" cy="1014.4" r="6.5" fill="#EDB120" stroke="#151515" stroke-width="1.3"/>
<circle cx="583.3" cy="1007.9" r="6.5" fill="#EDB120" stroke="#151515" stroke-width="1.3"/>
<circle cx="611.5" cy="1001.1" r="6.5" fill="#EDB120" stroke="#151515" stroke-width="1.3"/>
<circle cx="569.1" cy="1005.4" r="6.5" fill="#EDB120" stroke="#151515" stroke-width="1.3"/>
<circle cx="545.4" cy="1004.7" r="6.5" fill="#EDB120" stroke="#151515" stroke-width="1.3"/>
<circle cx="587.8" cy="991.9" r="6.5" fill="#EDB120" stroke="#151515" stroke-width="1.3"/>
<circle cx="627.3" cy="994.9" r="6.5" fill="#EDB120" stroke="#151515" stroke-width="1.3"/>
<circle cx="653.3" cy="960.9" r="6.5" fill="#EDB120" stroke="#151515" stroke-width="1.3"/>
<circle cx="666.4" cy="953.9" r="6.5" fill="#EDB120" stroke="#151515" stroke-width="1.3"/>
<circle cx="671.3" cy="948.3" r="6.5" fill="#EDB120" stroke="#151515" stroke-width="1.3"/>
<circle cx="654.4" cy="952.9" r="6.5" fill="#EDB120" stroke="#151515" stroke-width="1.3"/>
<circle cx="669.1" cy="958.3" r="6.5" fill="#EDB120" stroke="#151515" stroke-width="1.3"/>
<circle cx="663.4" cy="952.5" r="6.5" fill="#EDB120" stroke="#151515" stroke-width="1.3"/>
<circle cx="698.0" cy="952.4" r="6.5" fill="#EDB120" stroke="#151515" stroke-width="1.3"/>
<circle cx="645.4" cy="950.2" r="6.5" fill="#EDB120" stroke="#151515" stroke-width="1.3"/>
<circle cx="621.6" cy="945.9" r="6.5" fill="#EDB120" stroke="#151515" stroke-width="1.3"/>
<circle cx="671.3" cy="950.0" r="6.5" fill="#EDB120" stroke="#151515" stroke-width="1.3"/>
<circle cx="695.0" cy="941.3" r="6.5" fill="#EDB120" stroke="#151515" stroke-width="1.3"/>
<circle cx="724.4" cy="902.6" r="6.5" fill="#EDB120" stroke="#151515" stroke-width="1.3"/>
<circle cx="743.6" cy="896.3" r="6.5" fill="#EDB120" stroke="#151515" stroke-width="1.3"/>
<circle cx="754.9" cy="886.9" r="6.5" fill="#EDB120" stroke="#151515" stroke-width="1.3"/>
<circle cx="736.8" cy="886.1" r="6.5" fill="#EDB120" stroke="#151515" stroke-width="1.3"/>
<circle cx="752.6" cy="893.7" r="6.5" fill="#EDB120" stroke="#151515" stroke-width="1.3"/>
<circle cx="743.6" cy="895.4" r="6.5" fill="#EDB120" stroke="#151515" stroke-width="1.3"/>
<circle cx="778.6" cy="895.7" r="6.5" fill="#EDB120" stroke="#151515" stroke-width="1.3"/>
<circle cx="721.0" cy="890.4" r="6.5" fill="#EDB120" stroke="#151515" stroke-width="1.3"/>
<circle cx="699.6" cy="883.2" r="6.5" fill="#EDB120" stroke="#151515" stroke-width="1.3"/>
<circle cx="725.5" cy="910.6" r="6.5" fill="#EDB120" stroke="#151515" stroke-width="1.3"/>
<circle cx="596.8" cy="966.8" r="6.5" fill="#EDB120" stroke="#151515" stroke-width="1.3"/>
<circle cx="623.3" cy="959.2" r="6.5" fill="#EDB120" stroke="#151515" stroke-width="1.3"/>
<circle cx="644.2" cy="969.7" r="6.5" fill="#EDB120" stroke="#151515" stroke-width="1.3"/>
<circle cx="649.9" cy="962.0" r="6.5" fill="#EDB120" stroke="#151515" stroke-width="1.3"/>
<circle cx="628.4" cy="954.7" r="6.5" fill="#EDB120" stroke="#151515" stroke-width="1.3"/>
<circle cx="649.9" cy="970.4" r="6.5" fill="#EDB120" stroke="#151515" stroke-width="1.3"/>
<circle cx="649.9" cy="953.1" r="6.5" fill="#EDB120" stroke="#151515" stroke-width="1.3"/>
<circle cx="675.8" cy="963.2" r="6.5" fill="#EDB120" stroke="#151515" stroke-width="1.3"/>
<circle cx="618.3" cy="968.0" r="6.5" fill="#EDB120" stroke="#151515" stroke-width="1.3"/>
<circle cx="602.5" cy="959.2" r="6.5" fill="#EDB120" stroke="#151515" stroke-width="1.3"/>
<circle cx="646.5" cy="964.2" r="6.5" fill="#EDB120" stroke="#151515" stroke-width="1.3"/>
<circle cx="675.8" cy="959.3" r="6.5" fill="#EDB120" stroke="#151515" stroke-width="1.3"/>
<circle cx="709.7" cy="914.7" r="6.5" fill="#EDB120" stroke="#151515" stroke-width="1.3"/>
<circle cx="731.2" cy="903.5" r="6.5" fill="#EDB120" stroke="#151515" stroke-width="1.3"/>
<circle cx="744.3" cy="890.7" r="6.5" fill="#EDB120" stroke="#151515" stroke-width="1.3"/>
<circle cx="717.6" cy="889.6" r="6.5" fill="#EDB120" stroke="#151515" stroke-width="1.3"/>
<circle cx="741.3" cy="904.2" r="6.5" fill="#EDB120" stroke="#151515" stroke-width="1.3"/>
<circle cx="733.4" cy="887.3" r="6.5" fill="#EDB120" stroke="#151515" stroke-width="1.3"/>
<circle cx="768.4" cy="896.6" r="6.5" fill="#EDB120" stroke="#151515" stroke-width="1.3"/>
<circle cx="709.7" cy="898.1" r="6.5" fill="#EDB120" stroke="#151515" stroke-width="1.3"/>
<circle cx="688.3" cy="889.2" r="6.5" fill="#EDB120" stroke="#151515" stroke-width="1.3"/>
<circle cx="732.3" cy="898.4" r="6.5" fill="#EDB120" stroke="#151515" stroke-width="1.3"/>
<circle cx="763.9" cy="832.4" r="6.5" fill="#EDB120" stroke="#151515" stroke-width="1.3"/>
<circle cx="797.8" cy="851.1" r="6.5" fill="#EDB120" stroke="#151515" stroke-width="1.3"/>
<circle cx="821.5" cy="833.3" r="6.5" fill="#EDB120" stroke="#151515" stroke-width="1.3"/>
<circle cx="833.4" cy="823.0" r="6.5" fill="#EDB120" stroke="#151515" stroke-width="1.3"/>
<circle cx="809.1" cy="832.6" r="6.5" fill="#EDB120" stroke="#151515" stroke-width="1.3"/>
<circle cx="830.5" cy="838.9" r="6.5" fill="#EDB120" stroke="#151515" stroke-width="1.3"/>
<circle cx="829.4" cy="812.3" r="6.5" fill="#EDB120" stroke="#151515" stroke-width="1.3"/>
<circle cx="868.9" cy="823.9" r="6.5" fill="#EDB120" stroke="#151515" stroke-width="1.3"/>
<circle cx="804.6" cy="823.2" r="6.5" fill="#EDB120" stroke="#151515" stroke-width="1.3"/>
<circle cx="773.0" cy="817.7" r="6.5" fill="#EDB120" stroke="#151515" stroke-width="1.3"/>
<circle cx="827.9" cy="825.5" r="6.5" fill="#EDB120" stroke="#151515" stroke-width="1.3"/>
<circle cx="298.7" cy="1214.1" r="6.5" fill="#7E2F8E" stroke="#151515" stroke-width="1.3"/>
<circle cx="310.0" cy="1206.9" r="6.5" fill="#7E2F8E" stroke="#151515" stroke-width="1.3"/>
<circle cx="321.3" cy="1204.2" r="6.5" fill="#7E2F8E" stroke="#151515" stroke-width="1.3"/>
<circle cx="320.2" cy="1203.0" r="6.5" fill="#7E2F8E" stroke="#151515" stroke-width="1.3"/>
<circle cx="313.4" cy="1203.4" r="6.5" fill="#7E2F8E" stroke="#151515" stroke-width="1.3"/>
<circle cx="319.0" cy="1205.6" r="6.5" fill="#7E2F8E" stroke="#151515" stroke-width="1.3"/>
<circle cx="323.5" cy="1196.2" r="6.5" fill="#7E2F8E" stroke="#151515" stroke-width="1.3"/>
<circle cx="336.0" cy="1193.5" r="6.5" fill="#7E2F8E" stroke="#151515" stroke-width="1.3"/>
<circle cx="306.6" cy="1207.0" r="6.5" fill="#7E2F8E" stroke="#151515" stroke-width="1.3"/>
<circle cx="301.0" cy="1205.6" r="6.5" fill="#7E2F8E" stroke="#151515" stroke-width="1.3"/>
<circle cx="355.2" cy="1185.3" r="6.5" fill="#7E2F8E" stroke="#151515" stroke-width="1.3"/>
<circle cx="372.1" cy="1175.6" r="6.5" fill="#7E2F8E" stroke="#151515" stroke-width="1.3"/>
<circle cx="390.2" cy="1161.6" r="6.5" fill="#7E2F8E" stroke="#151515" stroke-width="1.3"/>
<circle cx="401.5" cy="1153.7" r="6.5" fill="#7E2F8E" stroke="#151515" stroke-width="1.3"/>
<circle cx="400.3" cy="1158.3" r="6.5" fill="#7E2F8E" stroke="#151515" stroke-width="1.3"/>
<circle cx="392.4" cy="1152.2" r="6.5" fill="#7E2F8E" stroke="#151515" stroke-width="1.3"/>
<circle cx="402.6" cy="1152.8" r="6.5" fill="#7E2F8E" stroke="#151515" stroke-width="1.3"/>
<circle cx="408.2" cy="1147.1" r="6.5" fill="#7E2F8E" stroke="#151515" stroke-width="1.3"/>
<circle cx="419.5" cy="1147.2" r="6.5" fill="#7E2F8E" stroke="#151515" stroke-width="1.3"/>
<circle cx="390.2" cy="1153.5" r="6.5" fill="#7E2F8E" stroke="#151515" stroke-width="1.3"/>
<circle cx="375.5" cy="1162.2" r="6.5" fill="#7E2F8E" stroke="#151515" stroke-width="1.3"/>
<circle cx="392.4" cy="1159.6" r="6.5" fill="#7E2F8E" stroke="#151515" stroke-width="1.3"/>
<circle cx="416.1" cy="1143.8" r="6.5" fill="#7E2F8E" stroke="#151515" stroke-width="1.3"/>
<circle cx="435.3" cy="1124.8" r="6.5" fill="#7E2F8E" stroke="#151515" stroke-width="1.3"/>
<circle cx="447.8" cy="1112.1" r="6.5" fill="#7E2F8E" stroke="#151515" stroke-width="1.3"/>
<circle cx="453.4" cy="1109.3" r="6.5" fill="#7E2F8E" stroke="#151515" stroke-width="1.3"/>
<circle cx="439.9" cy="1118.0" r="6.5" fill="#7E2F8E" stroke="#151515" stroke-width="1.3"/>
<circle cx="453.4" cy="1108.1" r="6.5" fill="#7E2F8E" stroke="#151515" stroke-width="1.3"/>
<circle cx="461.3" cy="1101.8" r="6.5" fill="#7E2F8E" stroke="#151515" stroke-width="1.3"/>
<circle cx="476.0" cy="1101.1" r="6.5" fill="#7E2F8E" stroke="#151515" stroke-width="1.3"/>
<circle cx="446.6" cy="1100.1" r="6.5" fill="#7E2F8E" stroke="#151515" stroke-width="1.3"/>
<circle cx="428.6" cy="1114.1" r="6.5" fill="#7E2F8E" stroke="#151515" stroke-width="1.3"/>
<circle cx="447.8" cy="1112.1" r="6.5" fill="#7E2F8E" stroke="#151515" stroke-width="1.3"/>
<circle cx="455.7" cy="1105.5" r="6.5" fill="#7E2F8E" stroke="#151515" stroke-width="1.3"/>
<circle cx="466.9" cy="1097.4" r="6.5" fill="#7E2F8E" stroke="#151515" stroke-width="1.3"/>
<circle cx="487.3" cy="1100.9" r="6.5" fill="#7E2F8E" stroke="#151515" stroke-width="1.3"/>
<circle cx="490.7" cy="1093.6" r="6.5" fill="#7E2F8E" stroke="#151515" stroke-width="1.3"/>
<circle cx="474.9" cy="1088.2" r="6.5" fill="#7E2F8E" stroke="#151515" stroke-width="1.3"/>
<circle cx="487.3" cy="1100.1" r="6.5" fill="#7E2F8E" stroke="#151515" stroke-width="1.3"/>
<circle cx="485.0" cy="1091.4" r="6.5" fill="#7E2F8E" stroke="#151515" stroke-width="1.3"/>
<circle cx="507.6" cy="1081.6" r="6.5" fill="#7E2F8E" stroke="#151515" stroke-width="1.3"/>
<circle cx="456.8" cy="1096.3" r="6.5" fill="#7E2F8E" stroke="#151515" stroke-width="1.3"/>
<circle cx="455.7" cy="1101.1" r="6.5" fill="#7E2F8E" stroke="#151515" stroke-width="1.3"/>
<circle cx="487.3" cy="1087.7" r="6.5" fill="#7E2F8E" stroke="#151515" stroke-width="1.3"/>
<circle cx="514.4" cy="1061.5" r="6.5" fill="#7E2F8E" stroke="#151515" stroke-width="1.3"/>
<circle cx="527.9" cy="1056.7" r="6.5" fill="#7E2F8E" stroke="#151515" stroke-width="1.3"/>
<circle cx="524.5" cy="1052.2" r="6.5" fill="#7E2F8E" stroke="#151515" stroke-width="1.3"/>
<circle cx="525.7" cy="1046.0" r="6.5" fill="#7E2F8E" stroke="#151515" stroke-width="1.3"/>
<circle cx="509.9" cy="1056.2" r="6.5" fill="#7E2F8E" stroke="#151515" stroke-width="1.3"/>
<circle cx="521.1" cy="1057.0" r="6.5" fill="#7E2F8E" stroke="#151515" stroke-width="1.3"/>
<circle cx="526.8" cy="1051.9" r="6.5" fill="#7E2F8E" stroke="#151515" stroke-width="1.3"/>
<circle cx="543.7" cy="1042.1" r="6.5" fill="#7E2F8E" stroke="#151515" stroke-width="1.3"/>
<circle cx="502.0" cy="1061.0" r="6.5" fill="#7E2F8E" stroke="#151515" stroke-width="1.3"/>
<circle cx="488.4" cy="1063.5" r="6.5" fill="#7E2F8E" stroke="#151515" stroke-width="1.3"/>
<circle cx="525.7" cy="1055.9" r="6.5" fill="#7E2F8E" stroke="#151515" stroke-width="1.3"/>
<circle cx="565.2" cy="1024.5" r="6.5" fill="#7E2F8E" stroke="#151515" stroke-width="1.3"/>
<circle cx="609.2" cy="986.1" r="6.5" fill="#7E2F8E" stroke="#151515" stroke-width="1.3"/>
<circle cx="623.9" cy="987.5" r="6.5" fill="#7E2F8E" stroke="#151515" stroke-width="1.3"/>
<circle cx="631.8" cy="979.5" r="6.5" fill="#7E2F8E" stroke="#151515" stroke-width="1.3"/>
<circle cx="609.2" cy="983.7" r="6.5" fill="#7E2F8E" stroke="#151515" stroke-width="1.3"/>
<circle cx="623.9" cy="985.0" r="6.5" fill="#7E2F8E" stroke="#151515" stroke-width="1.3"/>
<circle cx="617.1" cy="974.1" r="6.5" fill="#7E2F8E" stroke="#151515" stroke-width="1.3"/>
<circle cx="647.6" cy="968.7" r="6.5" fill="#7E2F8E" stroke="#151515" stroke-width="1.3"/>
<circle cx="593.4" cy="993.3" r="6.5" fill="#7E2F8E" stroke="#151515" stroke-width="1.3"/>
<circle cx="581.0" cy="995.1" r="6.5" fill="#7E2F8E" stroke="#151515" stroke-width="1.3"/>
<circle cx="619.4" cy="976.6" r="6.5" fill="#7E2F8E" stroke="#151515" stroke-width="1.3"/>
<circle cx="540.3" cy="1031.0" r="6.5" fill="#7E2F8E" stroke="#151515" stroke-width="1.3"/>
<circle cx="566.3" cy="1013.0" r="6.5" fill="#7E2F8E" stroke="#151515" stroke-width="1.3"/>
<circle cx="583.3" cy="1014.0" r="6.5" fill="#7E2F8E" stroke="#151515" stroke-width="1.3"/>
<circle cx="588.9" cy="1006.8" r="6.5" fill="#7E2F8E" stroke="#151515" stroke-width="1.3"/>
<circle cx="574.2" cy="1001.6" r="6.5" fill="#7E2F8E" stroke="#151515" stroke-width="1.3"/>
<circle cx="588.9" cy="1010.2" r="6.5" fill="#7E2F8E" stroke="#151515" stroke-width="1.3"/>
<circle cx="583.3" cy="1005.2" r="6.5" fill="#7E2F8E" stroke="#151515" stroke-width="1.3"/>
<circle cx="611.5" cy="988.7" r="6.5" fill="#7E2F8E" stroke="#151515" stroke-width="1.3"/>
<circle cx="569.1" cy="1010.8" r="6.5" fill="#7E2F8E" stroke="#151515" stroke-width="1.3"/>
<circle cx="545.4" cy="1020.6" r="6.5" fill="#7E2F8E" stroke="#151515" stroke-width="1.3"/>
<circle cx="587.8" cy="1006.4" r="6.5" fill="#7E2F8E" stroke="#151515" stroke-width="1.3"/>
<circle cx="627.3" cy="988.8" r="6.5" fill="#7E2F8E" stroke="#151515" stroke-width="1.3"/>
<circle cx="653.3" cy="952.6" r="6.5" fill="#7E2F8E" stroke="#151515" stroke-width="1.3"/>
<circle cx="666.4" cy="941.2" r="6.5" fill="#7E2F8E" stroke="#151515" stroke-width="1.3"/>
<circle cx="671.3" cy="944.1" r="6.5" fill="#7E2F8E" stroke="#151515" stroke-width="1.3"/>
<circle cx="654.4" cy="937.3" r="6.5" fill="#7E2F8E" stroke="#151515" stroke-width="1.3"/>
<circle cx="669.1" cy="942.6" r="6.5" fill="#7E2F8E" stroke="#151515" stroke-width="1.3"/>
<circle cx="663.4" cy="943.0" r="6.5" fill="#7E2F8E" stroke="#151515" stroke-width="1.3"/>
<circle cx="698.0" cy="921.0" r="6.5" fill="#7E2F8E" stroke="#151515" stroke-width="1.3"/>
<circle cx="645.4" cy="948.3" r="6.5" fill="#7E2F8E" stroke="#151515" stroke-width="1.3"/>
<circle cx="621.6" cy="960.1" r="6.5" fill="#7E2F8E" stroke="#151515" stroke-width="1.3"/>
<circle cx="671.3" cy="942.5" r="6.5" fill="#7E2F8E" stroke="#151515" stroke-width="1.3"/>
<circle cx="695.0" cy="925.6" r="6.5" fill="#7E2F8E" stroke="#151515" stroke-width="1.3"/>
<circle cx="724.4" cy="898.4" r="6.5" fill="#7E2F8E" stroke="#151515" stroke-width="1.3"/>
<circle cx="743.6" cy="887.7" r="6.5" fill="#7E2F8E" stroke="#151515" stroke-width="1.3"/>
<circle cx="754.9" cy="878.5" r="6.5" fill="#7E2F8E" stroke="#151515" stroke-width="1.3"/>
<circle cx="736.8" cy="876.6" r="6.5" fill="#7E2F8E" stroke="#151515" stroke-width="1.3"/>
<circle cx="752.6" cy="883.1" r="6.5" fill="#7E2F8E" stroke="#151515" stroke-width="1.3"/>
<circle cx="743.6" cy="874.6" r="6.5" fill="#7E2F8E" stroke="#151515" stroke-width="1.3"/>
<circle cx="778.6" cy="863.8" r="6.5" fill="#7E2F8E" stroke="#151515" stroke-width="1.3"/>
<circle cx="721.0" cy="890.6" r="6.5" fill="#7E2F8E" stroke="#151515" stroke-width="1.3"/>
<circle cx="699.6" cy="898.0" r="6.5" fill="#7E2F8E" stroke="#151515" stroke-width="1.3"/>
<circle cx="725.5" cy="896.6" r="6.5" fill="#7E2F8E" stroke="#151515" stroke-width="1.3"/>
<circle cx="596.8" cy="979.1" r="6.5" fill="#7E2F8E" stroke="#151515" stroke-width="1.3"/>
<circle cx="623.3" cy="968.8" r="6.5" fill="#7E2F8E" stroke="#151515" stroke-width="1.3"/>
<circle cx="644.2" cy="961.8" r="6.5" fill="#7E2F8E" stroke="#151515" stroke-width="1.3"/>
<circle cx="649.9" cy="966.2" r="6.5" fill="#7E2F8E" stroke="#151515" stroke-width="1.3"/>
<circle cx="628.4" cy="961.1" r="6.5" fill="#7E2F8E" stroke="#151515" stroke-width="1.3"/>
<circle cx="649.9" cy="959.5" r="6.5" fill="#7E2F8E" stroke="#151515" stroke-width="1.3"/>
<circle cx="649.9" cy="958.6" r="6.5" fill="#7E2F8E" stroke="#151515" stroke-width="1.3"/>
<circle cx="675.8" cy="939.6" r="6.5" fill="#7E2F8E" stroke="#151515" stroke-width="1.3"/>
<circle cx="618.3" cy="970.4" r="6.5" fill="#7E2F8E" stroke="#151515" stroke-width="1.3"/>
<circle cx="602.5" cy="978.7" r="6.5" fill="#7E2F8E" stroke="#151515" stroke-width="1.3"/>
<circle cx="646.5" cy="962.3" r="6.5" fill="#7E2F8E" stroke="#151515" stroke-width="1.3"/>
<circle cx="675.8" cy="938.9" r="6.5" fill="#7E2F8E" stroke="#151515" stroke-width="1.3"/>
<circle cx="709.7" cy="908.8" r="6.5" fill="#7E2F8E" stroke="#151515" stroke-width="1.3"/>
<circle cx="731.2" cy="900.6" r="6.5" fill="#7E2F8E" stroke="#151515" stroke-width="1.3"/>
<circle cx="744.3" cy="894.2" r="6.5" fill="#7E2F8E" stroke="#151515" stroke-width="1.3"/>
<circle cx="717.6" cy="891.6" r="6.5" fill="#7E2F8E" stroke="#151515" stroke-width="1.3"/>
<circle cx="741.3" cy="894.9" r="6.5" fill="#7E2F8E" stroke="#151515" stroke-width="1.3"/>
<circle cx="733.4" cy="894.5" r="6.5" fill="#7E2F8E" stroke="#151515" stroke-width="1.3"/>
<circle cx="768.4" cy="870.1" r="6.5" fill="#7E2F8E" stroke="#151515" stroke-width="1.3"/>
<circle cx="709.7" cy="903.0" r="6.5" fill="#7E2F8E" stroke="#151515" stroke-width="1.3"/>
<circle cx="688.3" cy="910.5" r="6.5" fill="#7E2F8E" stroke="#151515" stroke-width="1.3"/>
<circle cx="732.3" cy="891.4" r="6.5" fill="#7E2F8E" stroke="#151515" stroke-width="1.3"/>
<circle cx="763.9" cy="869.5" r="6.5" fill="#7E2F8E" stroke="#151515" stroke-width="1.3"/>
<circle cx="797.8" cy="840.7" r="6.5" fill="#7E2F8E" stroke="#151515" stroke-width="1.3"/>
<circle cx="821.5" cy="824.6" r="6.5" fill="#7E2F8E" stroke="#151515" stroke-width="1.3"/>
<circle cx="833.4" cy="814.0" r="6.5" fill="#7E2F8E" stroke="#151515" stroke-width="1.3"/>
<circle cx="809.1" cy="822.0" r="6.5" fill="#7E2F8E" stroke="#151515" stroke-width="1.3"/>
<circle cx="830.5" cy="818.1" r="6.5" fill="#7E2F8E" stroke="#151515" stroke-width="1.3"/>
<circle cx="829.4" cy="812.6" r="6.5" fill="#7E2F8E" stroke="#151515" stroke-width="1.3"/>
<circle cx="868.9" cy="797.7" r="6.5" fill="#7E2F8E" stroke="#151515" stroke-width="1.3"/>
<circle cx="804.6" cy="815.4" r="6.5" fill="#7E2F8E" stroke="#151515" stroke-width="1.3"/>
<circle cx="773.0" cy="830.4" r="6.5" fill="#7E2F8E" stroke="#151515" stroke-width="1.3"/>
<circle cx="827.9" cy="811.2" r="6.5" fill="#7E2F8E" stroke="#151515" stroke-width="1.3"/>
<circle cx="298.7" cy="1202.8" r="6.5" fill="#77AC30" stroke="#151515" stroke-width="1.3"/>
<circle cx="310.0" cy="1192.7" r="6.5" fill="#77AC30" stroke="#151515" stroke-width="1.3"/>
<circle cx="321.3" cy="1185.4" r="6.5" fill="#77AC30" stroke="#151515" stroke-width="1.3"/>
<circle cx="320.2" cy="1185.6" r="6.5" fill="#77AC30" stroke="#151515" stroke-width="1.3"/>
<circle cx="313.4" cy="1186.6" r="6.5" fill="#77AC30" stroke="#151515" stroke-width="1.3"/>
<circle cx="319.0" cy="1186.8" r="6.5" fill="#77AC30" stroke="#151515" stroke-width="1.3"/>
<circle cx="323.5" cy="1181.5" r="6.5" fill="#77AC30" stroke="#151515" stroke-width="1.3"/>
<circle cx="336.0" cy="1170.2" r="6.5" fill="#77AC30" stroke="#151515" stroke-width="1.3"/>
<circle cx="306.6" cy="1194.3" r="6.5" fill="#77AC30" stroke="#151515" stroke-width="1.3"/>
<circle cx="301.0" cy="1199.8" r="6.5" fill="#77AC30" stroke="#151515" stroke-width="1.3"/>
<circle cx="355.2" cy="1164.9" r="6.5" fill="#77AC30" stroke="#151515" stroke-width="1.3"/>
<circle cx="372.1" cy="1148.6" r="6.5" fill="#77AC30" stroke="#151515" stroke-width="1.3"/>
<circle cx="390.2" cy="1135.4" r="6.5" fill="#77AC30" stroke="#151515" stroke-width="1.3"/>
<circle cx="401.5" cy="1125.1" r="6.5" fill="#77AC30" stroke="#151515" stroke-width="1.3"/>
<circle cx="400.3" cy="1122.3" r="6.5" fill="#77AC30" stroke="#151515" stroke-width="1.3"/>
<circle cx="392.4" cy="1132.1" r="6.5" fill="#77AC30" stroke="#151515" stroke-width="1.3"/>
<circle cx="402.6" cy="1123.0" r="6.5" fill="#77AC30" stroke="#151515" stroke-width="1.3"/>
<circle cx="408.2" cy="1117.9" r="6.5" fill="#77AC30" stroke="#151515" stroke-width="1.3"/>
<circle cx="419.5" cy="1110.7" r="6.5" fill="#77AC30" stroke="#151515" stroke-width="1.3"/>
<circle cx="390.2" cy="1133.9" r="6.5" fill="#77AC30" stroke="#151515" stroke-width="1.3"/>
<circle cx="375.5" cy="1145.6" r="6.5" fill="#77AC30" stroke="#151515" stroke-width="1.3"/>
<circle cx="392.4" cy="1130.8" r="6.5" fill="#77AC30" stroke="#151515" stroke-width="1.3"/>
<circle cx="416.1" cy="1113.2" r="6.5" fill="#77AC30" stroke="#151515" stroke-width="1.3"/>
<circle cx="435.3" cy="1099.4" r="6.5" fill="#77AC30" stroke="#151515" stroke-width="1.3"/>
<circle cx="447.8" cy="1088.5" r="6.5" fill="#77AC30" stroke="#151515" stroke-width="1.3"/>
<circle cx="453.4" cy="1084.9" r="6.5" fill="#77AC30" stroke="#151515" stroke-width="1.3"/>
<circle cx="439.9" cy="1096.7" r="6.5" fill="#77AC30" stroke="#151515" stroke-width="1.3"/>
<circle cx="453.4" cy="1084.5" r="6.5" fill="#77AC30" stroke="#151515" stroke-width="1.3"/>
<circle cx="461.3" cy="1081.4" r="6.5" fill="#77AC30" stroke="#151515" stroke-width="1.3"/>
<circle cx="476.0" cy="1071.9" r="6.5" fill="#77AC30" stroke="#151515" stroke-width="1.3"/>
<circle cx="446.6" cy="1090.7" r="6.5" fill="#77AC30" stroke="#151515" stroke-width="1.3"/>
<circle cx="428.6" cy="1105.0" r="6.5" fill="#77AC30" stroke="#151515" stroke-width="1.3"/>
<circle cx="447.8" cy="1090.5" r="6.5" fill="#77AC30" stroke="#151515" stroke-width="1.3"/>
<circle cx="455.7" cy="1084.4" r="6.5" fill="#77AC30" stroke="#151515" stroke-width="1.3"/>
<circle cx="466.9" cy="1073.2" r="6.5" fill="#77AC30" stroke="#151515" stroke-width="1.3"/>
<circle cx="487.3" cy="1061.3" r="6.5" fill="#77AC30" stroke="#151515" stroke-width="1.3"/>
<circle cx="490.7" cy="1057.5" r="6.5" fill="#77AC30" stroke="#151515" stroke-width="1.3"/>
<circle cx="474.9" cy="1069.9" r="6.5" fill="#77AC30" stroke="#151515" stroke-width="1.3"/>
<circle cx="487.3" cy="1060.5" r="6.5" fill="#77AC30" stroke="#151515" stroke-width="1.3"/>
<circle cx="485.0" cy="1063.1" r="6.5" fill="#77AC30" stroke="#151515" stroke-width="1.3"/>
<circle cx="507.6" cy="1046.5" r="6.5" fill="#77AC30" stroke="#151515" stroke-width="1.3"/>
<circle cx="456.8" cy="1084.6" r="6.5" fill="#77AC30" stroke="#151515" stroke-width="1.3"/>
<circle cx="455.7" cy="1083.3" r="6.5" fill="#77AC30" stroke="#151515" stroke-width="1.3"/>
<circle cx="487.3" cy="1060.5" r="6.5" fill="#77AC30" stroke="#151515" stroke-width="1.3"/>
<circle cx="514.4" cy="1040.7" r="6.5" fill="#77AC30" stroke="#151515" stroke-width="1.3"/>
<circle cx="527.9" cy="1030.4" r="6.5" fill="#77AC30" stroke="#151515" stroke-width="1.3"/>
<circle cx="524.5" cy="1032.5" r="6.5" fill="#77AC30" stroke="#151515" stroke-width="1.3"/>
<circle cx="525.7" cy="1031.0" r="6.5" fill="#77AC30" stroke="#151515" stroke-width="1.3"/>
<circle cx="509.9" cy="1044.7" r="6.5" fill="#77AC30" stroke="#151515" stroke-width="1.3"/>
<circle cx="521.1" cy="1034.7" r="6.5" fill="#77AC30" stroke="#151515" stroke-width="1.3"/>
<circle cx="526.8" cy="1033.5" r="6.5" fill="#77AC30" stroke="#151515" stroke-width="1.3"/>
<circle cx="543.7" cy="1017.7" r="6.5" fill="#77AC30" stroke="#151515" stroke-width="1.3"/>
<circle cx="502.0" cy="1051.1" r="6.5" fill="#77AC30" stroke="#151515" stroke-width="1.3"/>
<circle cx="488.4" cy="1060.2" r="6.5" fill="#77AC30" stroke="#151515" stroke-width="1.3"/>
<circle cx="525.7" cy="1032.6" r="6.5" fill="#77AC30" stroke="#151515" stroke-width="1.3"/>
<circle cx="565.2" cy="1002.0" r="6.5" fill="#77AC30" stroke="#151515" stroke-width="1.3"/>
<circle cx="609.2" cy="969.5" r="6.5" fill="#77AC30" stroke="#151515" stroke-width="1.3"/>
<circle cx="623.9" cy="959.2" r="6.5" fill="#77AC30" stroke="#151515" stroke-width="1.3"/>
<circle cx="631.8" cy="951.9" r="6.5" fill="#77AC30" stroke="#151515" stroke-width="1.3"/>
<circle cx="609.2" cy="967.6" r="6.5" fill="#77AC30" stroke="#151515" stroke-width="1.3"/>
<circle cx="623.9" cy="957.5" r="6.5" fill="#77AC30" stroke="#151515" stroke-width="1.3"/>
<circle cx="617.1" cy="963.7" r="6.5" fill="#77AC30" stroke="#151515" stroke-width="1.3"/>
<circle cx="647.6" cy="940.8" r="6.5" fill="#77AC30" stroke="#151515" stroke-width="1.3"/>
<circle cx="593.4" cy="979.7" r="6.5" fill="#77AC30" stroke="#151515" stroke-width="1.3"/>
<circle cx="581.0" cy="991.9" r="6.5" fill="#77AC30" stroke="#151515" stroke-width="1.3"/>
<circle cx="619.4" cy="961.1" r="6.5" fill="#77AC30" stroke="#151515" stroke-width="1.3"/>
<circle cx="540.3" cy="1019.2" r="6.5" fill="#77AC30" stroke="#151515" stroke-width="1.3"/>
<circle cx="566.3" cy="1000.9" r="6.5" fill="#77AC30" stroke="#151515" stroke-width="1.3"/>
<circle cx="583.3" cy="989.8" r="6.5" fill="#77AC30" stroke="#151515" stroke-width="1.3"/>
<circle cx="588.9" cy="985.3" r="6.5" fill="#77AC30" stroke="#151515" stroke-width="1.3"/>
<circle cx="574.2" cy="996.1" r="6.5" fill="#77AC30" stroke="#151515" stroke-width="1.3"/>
<circle cx="588.9" cy="985.0" r="6.5" fill="#77AC30" stroke="#151515" stroke-width="1.3"/>
<circle cx="583.3" cy="989.5" r="6.5" fill="#77AC30" stroke="#151515" stroke-width="1.3"/>
<circle cx="611.5" cy="966.9" r="6.5" fill="#77AC30" stroke="#151515" stroke-width="1.3"/>
<circle cx="569.1" cy="996.8" r="6.5" fill="#77AC30" stroke="#151515" stroke-width="1.3"/>
<circle cx="545.4" cy="1017.4" r="6.5" fill="#77AC30" stroke="#151515" stroke-width="1.3"/>
<circle cx="587.8" cy="984.8" r="6.5" fill="#77AC30" stroke="#151515" stroke-width="1.3"/>
<circle cx="627.3" cy="956.5" r="6.5" fill="#77AC30" stroke="#151515" stroke-width="1.3"/>
<circle cx="653.3" cy="937.6" r="6.5" fill="#77AC30" stroke="#151515" stroke-width="1.3"/>
<circle cx="666.4" cy="926.3" r="6.5" fill="#77AC30" stroke="#151515" stroke-width="1.3"/>
<circle cx="671.3" cy="923.0" r="6.5" fill="#77AC30" stroke="#151515" stroke-width="1.3"/>
<circle cx="654.4" cy="934.7" r="6.5" fill="#77AC30" stroke="#151515" stroke-width="1.3"/>
<circle cx="669.1" cy="924.1" r="6.5" fill="#77AC30" stroke="#151515" stroke-width="1.3"/>
<circle cx="663.4" cy="928.6" r="6.5" fill="#77AC30" stroke="#151515" stroke-width="1.3"/>
<circle cx="698.0" cy="901.6" r="6.5" fill="#77AC30" stroke="#151515" stroke-width="1.3"/>
<circle cx="645.4" cy="942.9" r="6.5" fill="#77AC30" stroke="#151515" stroke-width="1.3"/>
<circle cx="621.6" cy="960.7" r="6.5" fill="#77AC30" stroke="#151515" stroke-width="1.3"/>
<circle cx="671.3" cy="921.9" r="6.5" fill="#77AC30" stroke="#151515" stroke-width="1.3"/>
<circle cx="695.0" cy="904.6" r="6.5" fill="#77AC30" stroke="#151515" stroke-width="1.3"/>
<circle cx="724.4" cy="883.7" r="6.5" fill="#77AC30" stroke="#151515" stroke-width="1.3"/>
<circle cx="743.6" cy="867.9" r="6.5" fill="#77AC30" stroke="#151515" stroke-width="1.3"/>
<circle cx="754.9" cy="860.2" r="6.5" fill="#77AC30" stroke="#151515" stroke-width="1.3"/>
<circle cx="736.8" cy="874.5" r="6.5" fill="#77AC30" stroke="#151515" stroke-width="1.3"/>
<circle cx="752.6" cy="862.6" r="6.5" fill="#77AC30" stroke="#151515" stroke-width="1.3"/>
<circle cx="743.6" cy="867.7" r="6.5" fill="#77AC30" stroke="#151515" stroke-width="1.3"/>
<circle cx="778.6" cy="843.0" r="6.5" fill="#77AC30" stroke="#151515" stroke-width="1.3"/>
<circle cx="721.0" cy="884.0" r="6.5" fill="#77AC30" stroke="#151515" stroke-width="1.3"/>
<circle cx="699.6" cy="899.3" r="6.5" fill="#77AC30" stroke="#151515" stroke-width="1.3"/>
<circle cx="725.5" cy="883.2" r="6.5" fill="#77AC30" stroke="#151515" stroke-width="1.3"/>
<circle cx="596.8" cy="978.3" r="6.5" fill="#77AC30" stroke="#151515" stroke-width="1.3"/>
<circle cx="623.3" cy="959.4" r="6.5" fill="#77AC30" stroke="#151515" stroke-width="1.3"/>
<circle cx="644.2" cy="943.3" r="6.5" fill="#77AC30" stroke="#151515" stroke-width="1.3"/>
<circle cx="649.9" cy="938.4" r="6.5" fill="#77AC30" stroke="#151515" stroke-width="1.3"/>
<circle cx="628.4" cy="954.1" r="6.5" fill="#77AC30" stroke="#151515" stroke-width="1.3"/>
<circle cx="649.9" cy="939.5" r="6.5" fill="#77AC30" stroke="#151515" stroke-width="1.3"/>
<circle cx="649.9" cy="937.4" r="6.5" fill="#77AC30" stroke="#151515" stroke-width="1.3"/>
<circle cx="675.8" cy="920.2" r="6.5" fill="#77AC30" stroke="#151515" stroke-width="1.3"/>
<circle cx="618.3" cy="961.8" r="6.5" fill="#77AC30" stroke="#151515" stroke-width="1.3"/>
<circle cx="602.5" cy="973.9" r="6.5" fill="#77AC30" stroke="#151515" stroke-width="1.3"/>
<circle cx="646.5" cy="941.5" r="6.5" fill="#77AC30" stroke="#151515" stroke-width="1.3"/>
<circle cx="675.8" cy="920.7" r="6.5" fill="#77AC30" stroke="#151515" stroke-width="1.3"/>
<circle cx="709.7" cy="897.0" r="6.5" fill="#77AC30" stroke="#151515" stroke-width="1.3"/>
<circle cx="731.2" cy="877.3" r="6.5" fill="#77AC30" stroke="#151515" stroke-width="1.3"/>
<circle cx="744.3" cy="866.0" r="6.5" fill="#77AC30" stroke="#151515" stroke-width="1.3"/>
<circle cx="717.6" cy="885.9" r="6.5" fill="#77AC30" stroke="#151515" stroke-width="1.3"/>
<circle cx="741.3" cy="870.2" r="6.5" fill="#77AC30" stroke="#151515" stroke-width="1.3"/>
<circle cx="733.4" cy="875.8" r="6.5" fill="#77AC30" stroke="#151515" stroke-width="1.3"/>
<circle cx="768.4" cy="845.8" r="6.5" fill="#77AC30" stroke="#151515" stroke-width="1.3"/>
<circle cx="709.7" cy="894.6" r="6.5" fill="#77AC30" stroke="#151515" stroke-width="1.3"/>
<circle cx="688.3" cy="912.2" r="6.5" fill="#77AC30" stroke="#151515" stroke-width="1.3"/>
<circle cx="732.3" cy="877.9" r="6.5" fill="#77AC30" stroke="#151515" stroke-width="1.3"/>
<circle cx="763.9" cy="854.1" r="6.5" fill="#77AC30" stroke="#151515" stroke-width="1.3"/>
<circle cx="797.8" cy="829.2" r="6.5" fill="#77AC30" stroke="#151515" stroke-width="1.3"/>
<circle cx="821.5" cy="809.3" r="6.5" fill="#77AC30" stroke="#151515" stroke-width="1.3"/>
<circle cx="833.4" cy="801.9" r="6.5" fill="#77AC30" stroke="#151515" stroke-width="1.3"/>
<circle cx="809.1" cy="819.3" r="6.5" fill="#77AC30" stroke="#151515" stroke-width="1.3"/>
<circle cx="830.5" cy="804.8" r="6.5" fill="#77AC30" stroke="#151515" stroke-width="1.3"/>
<circle cx="829.4" cy="803.5" r="6.5" fill="#77AC30" stroke="#151515" stroke-width="1.3"/>
<circle cx="868.9" cy="776.2" r="6.5" fill="#77AC30" stroke="#151515" stroke-width="1.3"/>
<circle cx="804.6" cy="823.2" r="6.5" fill="#77AC30" stroke="#151515" stroke-width="1.3"/>
<circle cx="773.0" cy="845.8" r="6.5" fill="#77AC30" stroke="#151515" stroke-width="1.3"/>
<circle cx="827.9" cy="806.0" r="6.5" fill="#77AC30" stroke="#151515" stroke-width="1.3"/>
<rect x="263.7" y="721.7" width="677.50" height="535.50" fill="none" stroke="#222" stroke-width="1.4"/><path d="M376.62,1257.2v-6.5M376.62,721.7v6.5M489.53,1257.2v-6.5M489.53,721.7v6.5M602.45,1257.2v-6.5M602.45,721.7v6.5M715.37,1257.2v-6.5M715.37,721.7v6.5M828.28,1257.2v-6.5M828.28,721.7v6.5M263.7,1167.95h6.5M941.2,1167.95h-6.5M263.7,1078.70h6.5M941.2,1078.70h-6.5M263.7,989.45h6.5M941.2,989.45h-6.5M263.7,900.20h6.5M941.2,900.20h-6.5M263.7,810.95h6.5M941.2,810.95h-6.5" stroke="#222" stroke-width="1.4" fill="none"/>
<text transform="translate(231.49,1267.50) scale(1.0000,1.0200)" font-size="19.40" fill="#3a3a3a">20</text>
<text transform="translate(231.49,1177.95) scale(1.0000,1.0200)" font-size="19.40" fill="#3a3a3a">30</text>
<text transform="translate(231.49,1088.40) scale(1.0000,1.0200)" font-size="19.40" fill="#3a3a3a">40</text>
<text transform="translate(231.49,998.85) scale(1.0000,1.0200)" font-size="19.40" fill="#3a3a3a">50</text>
<text transform="translate(231.49,909.30) scale(1.0000,1.0200)" font-size="19.40" fill="#3a3a3a">60</text>
<text transform="translate(231.49,819.75) scale(1.0000,1.0200)" font-size="19.40" fill="#3a3a3a">70</text>
<text transform="translate(231.49,730.20) scale(1.0000,1.0200)" font-size="19.40" fill="#3a3a3a">80</text>
<text transform="translate(252.21,1287.90) scale(1.0000,1.0200)" font-size="19.40" fill="#3a3a3a">20</text>
<text transform="translate(365.25,1287.90) scale(1.0000,1.0200)" font-size="19.40" fill="#3a3a3a">30</text>
<text transform="translate(478.31,1287.90) scale(1.0000,1.0200)" font-size="19.40" fill="#3a3a3a">40</text>
<text transform="translate(591.06,1287.90) scale(1.0000,1.0200)" font-size="19.40" fill="#3a3a3a">50</text>
<text transform="translate(703.88,1287.90) scale(1.0000,1.0200)" font-size="19.40" fill="#3a3a3a">60</text>
<text transform="translate(816.80,1287.90) scale(1.0000,1.0200)" font-size="19.40" fill="#3a3a3a">70</text>
<text transform="translate(929.78,1287.90) scale(1.0000,1.0200)" font-size="19.40" fill="#3a3a3a">80</text>
<text transform="translate(538.44,1319.50) scale(0.9833,1.0000)" font-size="23.45" fill="#3a3a3a">Actual Value</text>
<text transform="translate(218.58,1070.82) rotate(-90) scale(1.1633,1.1224)" font-size="20.00" fill="#3a3a3a">Predicted Value</text>
<rect x="745.5" y="1016.7" width="172.6" height="158.4" fill="#fff" stroke="#222" stroke-width="1.4"/>
<line x1="751.7" y1="1030.50" x2="812.5" y2="1030.50" stroke="#000" stroke-width="3"/>
<text transform="translate(819.28,1039.10) scale(1.0000,1.0700)" font-size="18.86" fill="#000">Y=T</text>
<circle cx="782.2" cy="1056.30" r="6.2" fill="#0072BD" stroke="#1a1a1a" stroke-width="1.1"/>
<text transform="translate(818.14,1064.90) scale(1.0000,1.0700)" font-size="18.86" fill="#000">M5-MT</text>
<circle cx="782.2" cy="1082.10" r="6.2" fill="#D95319" stroke="#1a1a1a" stroke-width="1.1"/>
<text transform="translate(818.76,1090.70) scale(1.0000,1.0700)" font-size="18.86" fill="#000">GEP</text>
<circle cx="782.2" cy="1107.90" r="6.2" fill="#EDB120" stroke="#1a1a1a" stroke-width="1.1"/>
<text transform="translate(818.76,1116.50) scale(1.0000,1.0700)" font-size="18.86" fill="#000">GMDH-NN</text>
<circle cx="782.2" cy="1133.70" r="6.2" fill="#7E2F8E" stroke="#1a1a1a" stroke-width="1.1"/>
<text transform="translate(818.14,1142.30) scale(1.0000,1.0700)" font-size="18.86" fill="#000">FFBP-ANN</text>
<circle cx="782.2" cy="1159.50" r="6.2" fill="#77AC30" stroke="#1a1a1a" stroke-width="1.1"/>
<text transform="translate(819.42,1168.10) scale(1.0000,1.0700)" font-size="18.86" fill="#000">Jian et al.</text>
<text class="cap" transform="translate(164.66,1363.25) scale(0.9977,1.0000)" font-size="36.38" fill="#000">(b) Scatter Plot for Actual vs Predicted Values with Y=T Line</text>
<line x1="184.47" y1="1435.3" x2="184.47" y2="1746.3" stroke="#262626" stroke-opacity="0.16" stroke-width="1.3"/><line x1="327.44" y1="1435.3" x2="327.44" y2="1746.3" stroke="#262626" stroke-opacity="0.16" stroke-width="1.3"/><line x1="470.41" y1="1435.3" x2="470.41" y2="1746.3" stroke="#262626" stroke-opacity="0.16" stroke-width="1.3"/><line x1="613.39" y1="1435.3" x2="613.39" y2="1746.3" stroke="#262626" stroke-opacity="0.16" stroke-width="1.3"/><line x1="756.36" y1="1435.3" x2="756.36" y2="1746.3" stroke="#262626" stroke-opacity="0.16" stroke-width="1.3"/><line x1="899.33" y1="1435.3" x2="899.33" y2="1746.3" stroke="#262626" stroke-opacity="0.16" stroke-width="1.3"/><line x1="41.5" y1="1701.87" x2="1042.3" y2="1701.87" stroke="#262626" stroke-opacity="0.16" stroke-width="1.3"/><line x1="41.5" y1="1657.44" x2="1042.3" y2="1657.44" stroke="#262626" stroke-opacity="0.16" stroke-width="1.3"/><line x1="41.5" y1="1613.01" x2="1042.3" y2="1613.01" stroke="#262626" stroke-opacity="0.16" stroke-width="1.3"/><line x1="41.5" y1="1568.59" x2="1042.3" y2="1568.59" stroke="#262626" stroke-opacity="0.16" stroke-width="1.3"/><line x1="41.5" y1="1524.16" x2="1042.3" y2="1524.16" stroke="#262626" stroke-opacity="0.16" stroke-width="1.3"/><line x1="41.5" y1="1479.73" x2="1042.3" y2="1479.73" stroke="#262626" stroke-opacity="0.16" stroke-width="1.3"/>
<polyline points="48.65,1640.56 55.80,1708.98 62.95,1686.32 70.09,1708.54 77.24,1680.10 84.39,1637.45 91.54,1631.23 98.69,1721.42 105.84,1517.49 112.99,1508.16 120.13,1740.52 127.28,1719.64 134.43,1711.20 141.58,1728.08 148.73,1690.32 155.88,1734.30 163.03,1725.86 170.17,1717.42 177.32,1675.66 184.47,1592.58 191.62,1573.92 198.77,1700.98 205.92,1638.34 213.07,1725.86 220.21,1711.20 227.36,1728.08 234.51,1707.20 241.66,1708.98 248.81,1696.54 255.96,1675.66 263.11,1562.37 270.25,1539.26 277.40,1684.10 284.55,1654.78 291.70,1736.08 298.85,1648.56 306.00,1625.90 313.15,1684.10 320.29,1700.98 327.44,1721.42 334.59,1688.54 341.74,1636.12 348.89,1609.02 356.04,1700.98 363.19,1746.30 370.33,1632.12 377.48,1734.30 384.63,1707.20 391.78,1715.20 398.93,1707.20 406.08,1684.10 413.23,1667.66 420.37,1542.37 427.52,1512.16 434.67,1661.00 441.82,1702.76 448.97,1584.14 456.12,1585.02 463.27,1523.71 470.41,1634.34 477.56,1629.90 484.71,1659.22 491.86,1636.12 499.01,1677.88 506.16,1639.23 513.31,1656.11 520.45,1649.89 527.60,1737.41 534.75,1665.44 541.90,1643.67 549.05,1715.20 556.20,1680.10 563.35,1700.98 570.49,1556.15 577.64,1694.76 584.79,1661.00 591.94,1669.44 599.09,1659.22 606.24,1740.52 613.39,1665.44 620.53,1622.79 627.68,1729.86 634.83,1636.12 641.98,1677.88 649.13,1533.93 656.28,1688.10 663.43,1650.78 670.57,1648.56 677.72,1613.46 684.87,1744.52 692.02,1650.78 699.17,1613.46 706.32,1700.98 713.47,1654.78 720.61,1677.88 727.76,1527.71 734.91,1713.42 742.06,1636.12 749.21,1635.23 756.36,1547.70 763.51,1659.22 770.65,1744.52 777.80,1713.42 784.95,1675.66 792.10,1728.08 799.25,1717.42 806.40,1619.68 813.55,1624.57 820.69,1566.81 827.84,1737.86 834.99,1559.70 842.14,1699.21 849.29,1715.20 856.44,1663.66 863.59,1724.09 870.73,1675.21 877.88,1706.31 885.03,1552.15 892.18,1692.99 899.33,1608.57 906.48,1710.76 913.63,1585.02 920.77,1732.08 927.92,1638.78 935.07,1610.35 942.22,1744.97 949.37,1660.55 956.52,1665.00 963.67,1482.84 970.81,1736.08 977.96,1610.35 985.11,1636.12" fill="none" stroke="#4DBEEE" stroke-width="1.6" stroke-linejoin="round"/>
<polyline points="48.65,1673.88 55.80,1723.64 62.95,1724.53 70.09,1714.31 77.24,1727.64 84.39,1714.31 91.54,1740.52 98.69,1671.66 105.84,1715.20 112.99,1690.32 120.13,1594.35 127.28,1707.20 134.43,1717.42 141.58,1665.44 148.73,1647.67 155.88,1708.98 163.03,1650.78 170.17,1678.77 177.32,1588.13 184.47,1728.08 191.62,1725.86 198.77,1667.66 205.92,1540.60 213.07,1613.46 220.21,1665.44 227.36,1696.54 234.51,1627.68 241.66,1721.42 248.81,1690.32 255.96,1642.34 263.11,1623.68 270.25,1588.13 277.40,1715.20 284.55,1590.36 291.70,1667.66 298.85,1671.66 306.00,1657.00 313.15,1736.08 320.29,1650.78 327.44,1694.76 334.59,1585.02 341.74,1736.08 348.89,1698.76 356.04,1671.66 363.19,1657.00 370.33,1742.30 377.48,1700.98 384.63,1719.64 391.78,1643.67 398.93,1719.64 406.08,1686.32 413.23,1684.10 420.37,1661.00 427.52,1567.70 434.67,1711.20 441.82,1508.16 448.97,1675.66 456.12,1721.42 463.27,1681.88 470.41,1684.10 477.56,1711.20 484.71,1728.08 491.86,1615.24 499.01,1644.56 506.16,1589.47 513.31,1723.64 520.45,1635.23 527.60,1732.08 534.75,1680.10 541.90,1653.00 549.05,1745.41 556.20,1654.78 563.35,1694.76 570.49,1563.25 577.64,1694.76 584.79,1661.00 591.94,1665.44 599.09,1669.44 606.24,1700.98 613.39,1611.24 620.53,1577.92 627.68,1675.66 634.83,1583.25 641.98,1634.34 649.13,1474.84 656.28,1719.64 663.43,1707.20 670.57,1594.35 677.72,1638.34 684.87,1719.64 692.02,1638.34 699.17,1590.36 706.32,1711.20 713.47,1596.58 720.61,1654.78 727.76,1472.62 734.91,1740.52 742.06,1675.66 749.21,1621.46 756.36,1483.28 763.51,1611.24 770.65,1690.32 777.80,1713.42 784.95,1607.24 792.10,1700.98 799.25,1659.22 806.40,1680.10 813.55,1613.01 820.69,1512.16 827.84,1680.10 834.99,1555.26 842.14,1680.10 849.29,1720.09 856.44,1672.10 863.59,1697.43 870.73,1686.32 877.88,1704.98 885.03,1555.26 892.18,1660.11 899.33,1586.36 906.48,1688.54 913.63,1550.37 920.77,1698.76 927.92,1709.42 935.07,1640.56 942.22,1706.31 949.37,1648.11 956.52,1733.42 963.67,1509.94 970.81,1675.21 977.96,1590.80 985.11,1658.33" fill="none" stroke="#D95319" stroke-width="1.6" stroke-linejoin="round"/>
<polyline points="48.65,1601.91 55.80,1598.80 62.95,1690.32 70.09,1654.78 77.24,1650.78 84.39,1700.98 91.54,1629.01 98.69,1746.30 105.84,1642.34 112.99,1560.14 120.13,1669.44 127.28,1696.54 134.43,1707.20 141.58,1683.21 148.73,1717.42 155.88,1734.30 163.03,1665.44 170.17,1740.52 177.32,1611.24 184.47,1740.52 191.62,1665.44 198.77,1680.10 205.92,1644.56 213.07,1680.10 220.21,1717.42 227.36,1729.86 234.51,1728.08 241.66,1669.44 248.81,1738.30 255.96,1605.02 263.11,1734.30 270.25,1648.56 277.40,1681.88 284.55,1661.00 291.70,1690.32 298.85,1604.13 306.00,1624.57 313.15,1680.10 320.29,1588.13 327.44,1690.32 334.59,1529.93 341.74,1688.54 348.89,1713.42 356.04,1615.24 363.19,1734.30 370.33,1700.98 377.48,1708.98 384.63,1721.42 391.78,1707.20 398.93,1684.10 406.08,1725.86 413.23,1626.79 420.37,1680.10 427.52,1609.02 434.67,1669.44 441.82,1702.76 448.97,1646.78 456.12,1550.81 463.27,1549.93 470.41,1663.22 477.56,1540.60 484.71,1632.12 491.86,1471.73 499.01,1677.88 506.16,1719.64 513.31,1581.91 520.45,1607.24 527.60,1669.44 534.75,1698.76 541.90,1713.42 549.05,1711.20 556.20,1675.66 563.35,1729.86 570.49,1653.00 577.64,1694.76 584.79,1597.91 591.94,1700.98 599.09,1621.46 606.24,1688.54 613.39,1671.66 620.53,1680.10 627.68,1723.64 634.83,1639.23 641.98,1690.32 649.13,1554.81 656.28,1719.64 663.43,1605.02 670.57,1671.66 677.72,1621.46 684.87,1698.76 692.02,1654.78 699.17,1657.00 706.32,1732.08 713.47,1632.12 720.61,1659.22 727.76,1519.71 734.91,1719.64 742.06,1599.69 749.21,1654.78 756.36,1611.24 763.51,1677.88 770.65,1680.10 777.80,1696.54 784.95,1675.66 792.10,1654.78 799.25,1740.52 806.40,1588.13 813.55,1701.87 820.69,1595.69 827.84,1698.76 834.99,1607.68 842.14,1696.54 849.29,1667.66 856.44,1680.10 863.59,1702.32 870.73,1624.12 877.88,1739.64 885.03,1555.26 892.18,1713.87 899.33,1585.02 906.48,1688.54 913.63,1599.69 920.77,1666.33 927.92,1661.89 935.07,1666.33 942.22,1713.87 949.37,1598.35 956.52,1735.19 963.67,1521.94 970.81,1713.87 977.96,1562.37 985.11,1675.21" fill="none" stroke="#EDB120" stroke-width="1.6" stroke-linejoin="round"/>
<polyline points="48.65,1669.44 55.80,1677.88 62.95,1708.98 70.09,1698.76 77.24,1673.88 84.39,1707.20 91.54,1677.88 98.69,1713.42 105.84,1665.44 112.99,1636.12 120.13,1744.52 127.28,1725.86 134.43,1724.53 141.58,1719.64 148.73,1700.98 155.88,1729.86 163.03,1719.64 170.17,1725.86 177.32,1680.99 184.47,1727.64 191.62,1713.42 198.77,1725.86 205.92,1711.20 213.07,1729.86 220.21,1744.52 227.36,1736.08 234.51,1746.30 241.66,1742.30 248.81,1742.30 255.96,1688.10 263.11,1684.10 270.25,1682.77 277.40,1744.52 284.55,1746.30 291.70,1742.30 298.85,1644.56 306.00,1667.66 313.15,1736.08 320.29,1648.56 327.44,1700.98 334.59,1661.00 341.74,1704.98 348.89,1724.53 356.04,1710.31 363.19,1734.30 370.33,1704.98 377.48,1740.52 384.63,1725.86 391.78,1714.31 398.93,1729.86 406.08,1732.97 413.23,1715.20 420.37,1707.20 427.52,1666.33 434.67,1717.42 441.82,1718.31 448.97,1736.08 456.12,1671.66 463.27,1680.10 470.41,1744.52 477.56,1684.10 484.71,1727.64 491.86,1671.66 499.01,1729.86 506.16,1689.88 513.31,1743.63 520.45,1708.98 527.60,1721.42 534.75,1699.65 541.90,1713.42 549.05,1695.65 556.20,1696.54 563.35,1743.63 570.49,1714.31 577.64,1721.42 584.79,1676.99 591.94,1719.64 599.09,1651.67 606.24,1729.86 613.39,1735.19 620.53,1700.98 627.68,1691.21 634.83,1717.42 641.98,1737.41 649.13,1711.20 656.28,1710.31 663.43,1675.66 670.57,1708.98 677.72,1699.65 684.87,1719.64 692.02,1697.43 699.17,1698.76 706.32,1713.42 713.47,1684.99 720.61,1729.86 727.76,1678.77 734.91,1720.53 742.06,1672.99 749.21,1724.09 756.36,1672.55 763.51,1725.86 770.65,1719.64 777.80,1675.66 784.95,1707.20 792.10,1708.98 799.25,1713.42 806.40,1705.87 813.55,1713.87 820.69,1692.99 827.84,1708.09 834.99,1708.98 842.14,1725.86 849.29,1682.32 856.44,1662.33 863.59,1712.53 870.73,1670.33 877.88,1703.65 885.03,1687.21 892.18,1737.86 899.33,1690.76 906.48,1723.64 913.63,1708.09 920.77,1718.31 927.92,1704.98 935.07,1711.20 942.22,1725.86 949.37,1701.87 956.52,1733.42 963.67,1652.56 970.81,1675.21 977.96,1625.45 985.11,1746.30" fill="none" stroke="#7E2F8E" stroke-width="1.6" stroke-linejoin="round"/>
<polyline points="48.65,1613.46 55.80,1607.24 62.95,1615.24 70.09,1612.13 77.24,1590.36 84.39,1613.46 91.54,1605.02 98.69,1597.46 105.84,1601.91 112.99,1607.24 120.13,1646.78 127.28,1632.12 134.43,1637.45 141.58,1630.79 148.73,1612.13 155.88,1629.90 163.03,1624.57 170.17,1621.46 177.32,1629.90 184.47,1629.90 191.62,1630.79 198.77,1623.68 205.92,1629.01 213.07,1636.12 220.21,1630.79 227.36,1635.23 234.51,1640.56 241.66,1633.01 248.81,1648.56 255.96,1659.22 263.11,1637.45 270.25,1637.45 277.40,1640.56 284.55,1641.45 291.70,1629.90 298.85,1650.78 306.00,1645.45 313.15,1644.56 320.29,1646.78 327.44,1650.78 334.59,1657.00 341.74,1646.78 348.89,1636.12 356.04,1646.78 363.19,1654.78 370.33,1657.00 377.48,1653.89 384.63,1650.78 391.78,1657.00 398.93,1651.67 406.08,1667.66 413.23,1656.11 420.37,1657.89 427.52,1649.89 434.67,1659.22 441.82,1662.33 448.97,1673.88 456.12,1680.10 463.27,1674.77 470.41,1664.11 477.56,1671.66 484.71,1675.66 491.86,1681.88 499.01,1662.33 506.16,1674.33 513.31,1671.66 520.45,1649.89 527.60,1661.00 534.75,1672.55 541.90,1672.55 549.05,1668.55 556.20,1670.77 563.35,1670.77 570.49,1669.44 577.64,1651.67 584.79,1661.00 591.94,1665.44 599.09,1680.10 606.24,1688.10 613.39,1683.21 620.53,1686.32 627.68,1677.88 634.83,1683.21 641.98,1683.21 649.13,1684.99 656.28,1683.21 663.43,1678.77 670.57,1680.99 677.72,1688.10 684.87,1699.65 692.02,1696.54 699.17,1702.76 706.32,1702.76 713.47,1705.87 720.61,1695.65 727.76,1710.31 734.91,1688.10 742.06,1679.66 749.21,1701.87 756.36,1668.55 763.51,1678.77 770.65,1680.99 777.80,1678.77 784.95,1672.55 792.10,1684.10 799.25,1673.88 806.40,1690.32 813.55,1670.77 820.69,1668.99 827.84,1680.99 834.99,1692.99 842.14,1708.09 849.29,1694.32 856.44,1689.88 863.59,1684.10 870.73,1699.21 877.88,1696.10 885.03,1684.10 892.18,1696.10 899.33,1699.21 906.48,1701.87 913.63,1708.09 920.77,1716.98 927.92,1711.65 935.07,1721.42 942.22,1712.53 949.37,1724.53 956.52,1713.87 963.67,1733.42 970.81,1713.87 977.96,1701.87 985.11,1720.09" fill="none" stroke="#77AC30" stroke-width="1.6" stroke-linejoin="round"/>
<rect x="41.5" y="1435.3" width="1000.80" height="311.00" fill="none" stroke="#222" stroke-width="1.4"/><path d="M184.47,1746.3v-9M184.47,1435.3v9M327.44,1746.3v-9M327.44,1435.3v9M470.41,1746.3v-9M470.41,1435.3v9M613.39,1746.3v-9M613.39,1435.3v9M756.36,1746.3v-9M756.36,1435.3v9M899.33,1746.3v-9M899.33,1435.3v9M41.5,1701.87h9M1042.3,1701.87h-9M41.5,1657.44h9M1042.3,1657.44h-9M41.5,1613.01h9M1042.3,1613.01h-9M41.5,1568.59h9M1042.3,1568.59h-9M41.5,1524.16h9M1042.3,1524.16h-9M41.5,1479.73h9M1042.3,1479.73h-9" stroke="#222" stroke-width="1.4" fill="none"/>
<text transform="translate(25.29,1753.20) scale(1.1000,0.9500)" font-size="14.60" fill="#3a3a3a">0</text>
<text transform="translate(25.45,1708.77) scale(1.1000,0.9500)" font-size="14.60" fill="#3a3a3a">1</text>
<text transform="translate(25.49,1664.34) scale(1.1000,0.9500)" font-size="14.60" fill="#3a3a3a">2</text>
<text transform="translate(25.37,1619.91) scale(1.1000,0.9500)" font-size="14.60" fill="#3a3a3a">3</text>
<text transform="translate(25.13,1575.49) scale(1.1000,0.9500)" font-size="14.60" fill="#3a3a3a">4</text>
<text transform="translate(25.33,1531.06) scale(1.1000,0.9500)" font-size="14.60" fill="#3a3a3a">5</text>
<text transform="translate(25.37,1486.63) scale(1.1000,0.9500)" font-size="14.60" fill="#3a3a3a">6</text>
<text transform="translate(25.49,1442.20) scale(1.1000,0.9500)" font-size="14.60" fill="#3a3a3a">7</text>
<text transform="translate(37.15,1768.80) scale(1.0700,0.9700)" font-size="14.60" fill="#3a3a3a">0</text>
<text transform="translate(175.70,1768.80) scale(1.0700,0.9700)" font-size="14.60" fill="#3a3a3a">20</text>
<text transform="translate(318.89,1768.80) scale(1.0700,0.9700)" font-size="14.60" fill="#3a3a3a">40</text>
<text transform="translate(461.65,1768.80) scale(1.0700,0.9700)" font-size="14.60" fill="#3a3a3a">60</text>
<text transform="translate(604.68,1768.80) scale(1.0700,0.9700)" font-size="14.60" fill="#3a3a3a">80</text>
<text transform="translate(743.04,1768.80) scale(1.0700,0.9700)" font-size="14.60" fill="#3a3a3a">100</text>
<text transform="translate(886.01,1768.80) scale(1.0700,0.9700)" font-size="14.60" fill="#3a3a3a">120</text>
<text transform="translate(1028.98,1768.80) scale(1.0700,0.9700)" font-size="14.60" fill="#3a3a3a">140</text>
<text transform="translate(487.90,1792.70) scale(0.9665,1.0000)" font-size="18.34" fill="#3a3a3a">Sample Index</text>
<text transform="translate(14.73,1644.64) rotate(-90) scale(0.8384,0.8503)" font-size="20.00" fill="#3a3a3a">Absolute Error</text>
<rect x="1063.1" y="1424.8" width="133.4" height="97.4" fill="#fff" stroke="#222" stroke-width="1.4"/>
<line x1="1068.3" y1="1436.30" x2="1115.5" y2="1436.30" stroke="#4DBEEE" stroke-width="1.6"/>
<text transform="translate(1119.70,1441.90) scale(1.0000,1.0000)" font-size="14.50" fill="#000">M5-MT</text>
<line x1="1068.3" y1="1455.05" x2="1115.5" y2="1455.05" stroke="#D95319" stroke-width="1.6"/>
<text transform="translate(1120.18,1460.90) scale(1.0000,1.0000)" font-size="14.50" fill="#000">GEP</text>
<line x1="1068.3" y1="1473.80" x2="1115.5" y2="1473.80" stroke="#EDB120" stroke-width="1.6"/>
<text transform="translate(1120.18,1479.90) scale(1.0000,1.0000)" font-size="14.50" fill="#000">GMDH-NN</text>
<line x1="1068.3" y1="1492.55" x2="1115.5" y2="1492.55" stroke="#7E2F8E" stroke-width="1.6"/>
<text transform="translate(1119.70,1498.90) scale(1.0000,1.0000)" font-size="14.50" fill="#000">FFBP-ANN</text>
<line x1="1068.3" y1="1511.30" x2="1115.5" y2="1511.30" stroke="#77AC30" stroke-width="1.6"/>
<text transform="translate(1120.68,1517.90) scale(1.0000,1.0000)" font-size="14.50" fill="#000">Jian et al.</text>
<text class="cap" transform="translate(384.67,1842.00) scale(0.9981,1.0000)" font-size="35.97" fill="#000">(c) Error Comparison Plot</text>
</svg></body></html>
